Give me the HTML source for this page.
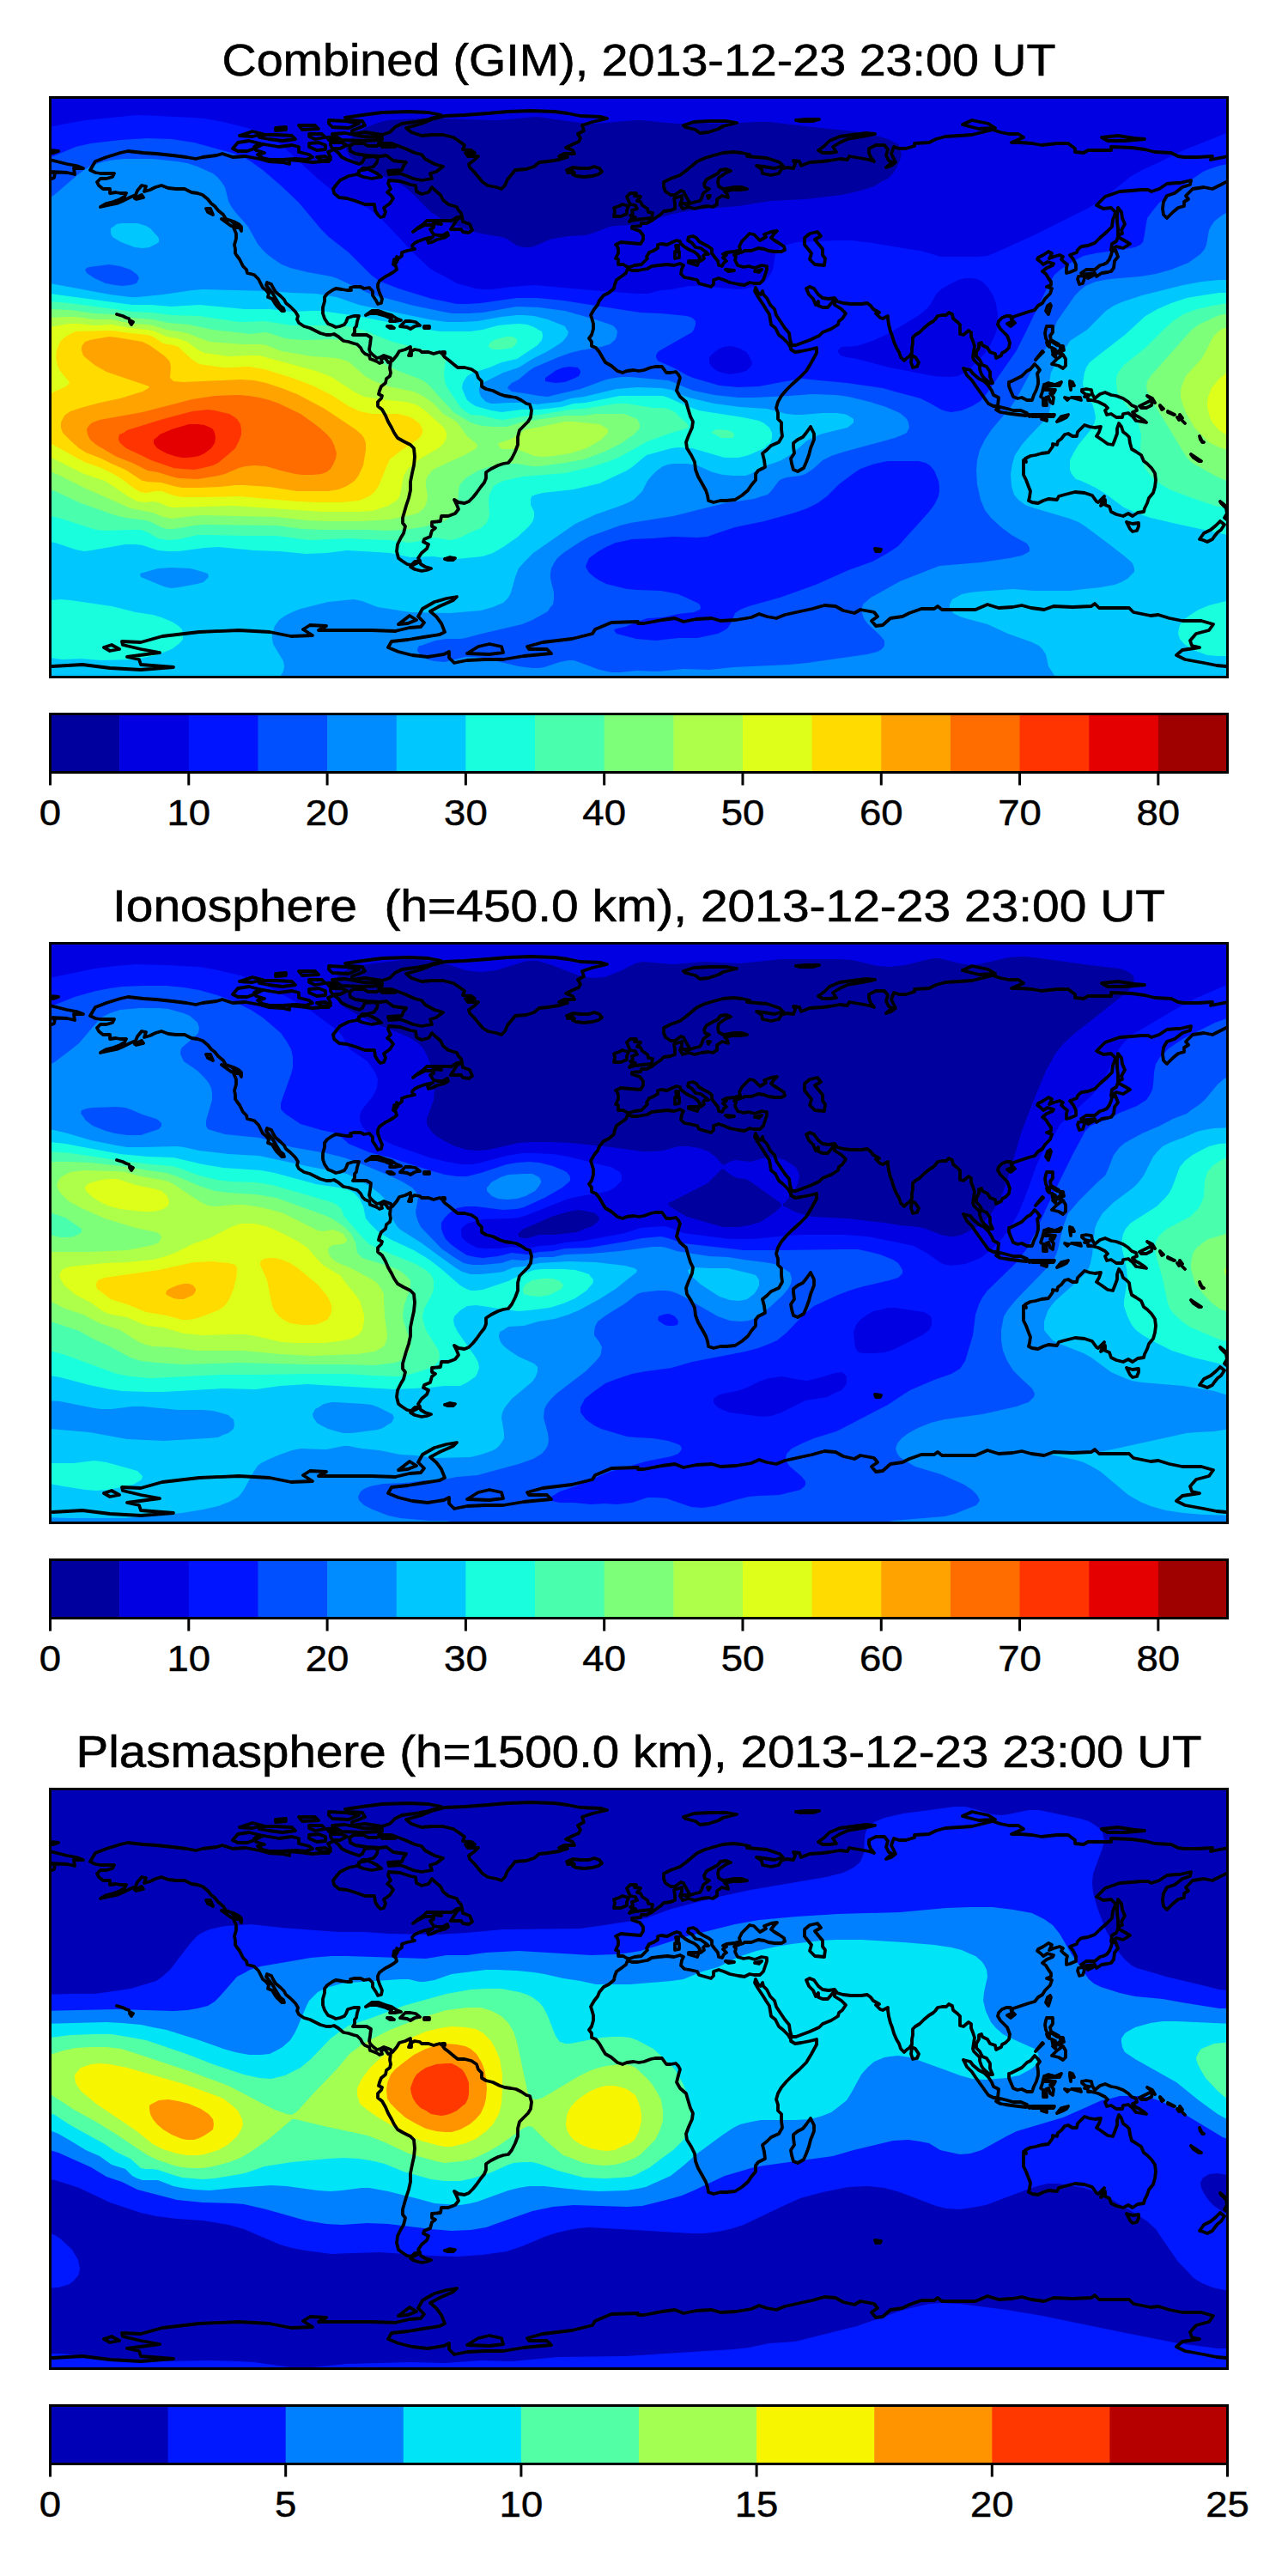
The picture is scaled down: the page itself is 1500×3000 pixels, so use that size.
<!DOCTYPE html><html><head><meta charset="utf-8"><style>html,body{margin:0;padding:0;background:#fff}body{width:1500px;height:3000px;position:relative;overflow:hidden}svg text{font-family:"Liberation Sans",sans-serif;fill:#000}</style></head><body>
<svg width="1500" height="3000" viewBox="0 0 1500 3000" style="position:absolute;left:0;top:0">
<defs>
<clipPath id="c0"><rect x="58.5" y="113.5" width="1371" height="675"/></clipPath>
<clipPath id="c1"><rect x="58.5" y="1098.5" width="1371" height="675"/></clipPath>
<clipPath id="c2"><rect x="58.5" y="2083.5" width="1371" height="675"/></clipPath>
</defs>
<g clip-path="url(#c0)" shape-rendering="geometricPrecision">
<rect x="58" y="113" width="1372" height="677" fill="#00009f"/>
<path fill="#0000e3" d="M58 108l1378 0 0 686-1384 0 0-686zM487 138l-21 1-14 1-12 3-10 4-12 6-10 9-4 7-1 5 1 2 3 6 12 10 11 6 28 12 14 8 11 10 19 19 12 8 16 7 18 7 12 3 24 4 6 2 12 8 8 2 6 0 6-1 18-8 10-2 12-2 20-1 10-3 18-7 6-1 18-1 8-1 42-12 22-4 18-2 36-3 38-6 40-2 42-5 14-3 12-3 12-4 8-5 8-4 6-6 5-8 3-7 2-7-2-8-2-4-4-2-8-4-16-5-23-4-49-5-50-6-16 0-36 2-54 0-14-1-28-3-8 0-34 3-14 1-16-1-36-5-14-2-12 1-22 2-14 1-40-1-32-2z"/>
<path fill="#0014ff" d="M160 134l24 1 40 2 14 1 22 4 32 8 10 3 8 4 10 5 8 7 42 39 16 13 14 9 28 12 13 10 12 12 29 31 18 17 6 4 12 6 14 8 22 6 8 1 10 0 24-3 26-2 34 3 33 3 53 4 12 0 16-4 12-1 20-4 12 0 46 4 8-1 10-2 10-4 4-4 5-6 3-6 3-18 4-6 3-3 6-2 12-3 46-2 18 0 24 3 42 7 14 2 24 7 42 0 12-1 12-5 22-10 20-9 28-14 36-18 20-13 28-23 14-8 22-10 26-13 28-11 20-8 4-1 6 0 0 639-1384 0 0-646 10-1 20-4 18-3zM1116 326l-10 5-10 6-6 6-6 11-5 6-10 8-10 6-25 15-18 8-18 6-18 1-4 4 0 2 3 4 7 2 12 2 38 10 52 10 12 1 8 0 7-1 9-4 7-6 7-7 9-10 6-9 5-10 3-8 1-10 0-8-2-12-4-11-6-9-6-6-6-3-6-1-8 0zM843 404l-5 2-6 4-4 4-2 2 0 4 0 2 2 4 2 2 5 4 6 2 9 2 12-2 7-2 4-4 2-2 1-4-1-2-3-6-3-4-7-4-6-2-6-1z"/>
<path fill="#0050ff" d="M172 161l28 1 26 4 40 11 16 5 10 6 14 10 21 18 21 20 26 31 9 9 23 18 26 26 8 6 6 3 18 7 39 12 15 3 14 3 12 0 16-1 42-6 24 0 30 3 38 6 52 8 24 1 30 3 6 2 4 4 0 4-2 6-2 3-9 5-28 16-3 2-2 4 0 2 2 4 4 2 14 6 16 9 7 3 31 9 22 2 24-1 26-5 24-4 10 1 42 4 42 6 14 4 30 8 10 5 14 8 6 2 6 1 12-2 12-5 10-6 8-10 34-49 11-22 13-27 14-29 6-10 7-6 15-10 12-6 14-3 35-5 11-2 6-3 3-3 1-4 3-18 1-6 6-8 8-10 38-27 13-9 7-3 12-4 10-2 5 0 1 603-1384 0 0-611 6 0 4-1 26-11 18-4 34-4zM656 428l-8 3-10 7-3 2 0 4 5 1 7 1 11-1 12-5 4-2 2-4 0-2-3-4-9-1zM1019 540l-17 6-9 6-16 12-14 14-11 8-12 6-14 5-36 10-34 7-24 8-8 3-12 1-28-1-24 2-24 1-9 2-10 2-11 5-9 5-11 8-3 7-1 3 1 2 3 5 6 5 6 4 8 4 24 6 12 1 28 1 20 4 9 4 13 6 3 2 1 4-1 2-7 3-18 2-18 4-18 1-6 2-20 8-10 2-2 1-1 1 3 4 23 6 23 2 8-1 18-2 22 0 24-5 8-4 3-2 4-6 5-12 6-4 10-4 36-10 42-15 38-17 28-10 18-10 12-8 9-10 27-30 6-8 5-10 1-6 0-6-1-6-5-12-5-6-5-3-8-2-12 0-24 0z"/>
<path fill="#008cff" d="M146 185l32 0 28 3 12 2 12 4 9 4 9 4 5 4 5 6 4 6 4 16 3 6 5 7 15 17 11 20 5 6 6 6 8 6 9 6 10 4 20 5 28 5 6 2 30 14 8 4 52 14 24 5 20 4 18 0 18-1 40-7 26 1 30 4 35 10 18 6 4 2 3 4 1 2-1 6-2 4-6 5-10 3-24 4-12 3-14 5-28 12-6 4-12 10-8 4-4 4-1 2 5 4 14 2 18 3 10 1 12-3 26-6 30-11 10-2 8-1 10 0 44 4 6 2 16 7 8 3 24 5 28 3 18 0 42-2 26-2 28 1 14 2 25 6 19 6 16 7 6 5 2 2 2 4 1 6-1 2-2 4-4 2-10 4-62 17-12 4-10 5-11 10-9 6-6 2-16 2-6 2-3 2-9 12-4 4-7 2-9 3-34 5-24 6-36 9-50 8-12 3-36 13-12 7-18 12-7 6-4 6-3 6-1 6 0 6 4 16 0 8-1 6-3 3-3 5-7 4-11 6-12 5-47 11-19 5-6 1-16 0-13 2-17 6-2 0-2 4 0 2 3 4 9 6 8 2 12 1 24-6 12 0 12 2 38 9 16 2 8 0 6-1 18-6 10-2 6 0 6 2 24 9 14 3 10 0 20-2 24 1 30-3 30 1 28-3 66-3 20-2 70-10 12-3 5-3 3-4 0-2 0-4-5-6-15-14-4-6-2-6 0-6 1-4 2-2 7-6 34-19 46-18 12-1 36-3 34-5 14-3 6-3 3-2 0-4-1-2-2-3-18-10-12-9-12-11-7-9-5-12-4-18-1-16 1-12 3-12 6-12 8-12 22-26 8-12 7-13 12-23 15-22 8-20 4-10 21-30 6-6 6-5 12-5 16-3 36-3 18-3 18-5 20-8 14-10 5-6 2-5 3-17 2-4 4-6 6-5 6-4 4-1 6 0 0 546-1384 0 0-564 6 0 4-2 28-24 8-6 8-5 16-5 12-2zM127 308l-23 3-3 1-2 2 2 4 9 6 13 6 11 2 8 1 10-1 7-2 2-4 1-2-2-4-8-6-12-4z"/>
<path fill="#00c8ff" d="M142 260l18 0 10 3 5 3 9 10 1 2 0 4-3 2-4 2-4 2-8 1-9-1-16-6-10-6-2-4 0-2 0-4 3-2 4-3zM1420 326l16 0 0 468-207 0 0-6-8-12-3-14-4-6-4-4-8-4-28-10-24-11-26-7-6-2-8-4-2-4-2-2 0-4 1-2 2-4 4-2 7-4 10-2 8-1 42-3 24 2 42 0 36-4 16-3 8-3 7-4 5-5 3-3 0-4-2-6-2-2-7-6-18-14-28-21-8-5-10-4-44-13-8-3-8-6-5-6-3-10-1-14 2-12 3-10 8-12 7-8 17-18 5-6 3-6 2-10-2-24 2-12 4-8 10-17 5-7 3-5 20-13 22-22 9-6 9-4 24-8 48-12 22-4zM58 330l70 13 24 3 8 0 30-3 34-5 12-1 78 2 26 2 28 1 24 4 26 9 58 12 24 5 20 3 18 0 18-1 28-5 18-2 8 0 12 1 16 4 15 6 5 2 2 4 2 2-1 4-1 2-5 6-9 6-10 6-16 8-16 10-6 2-12 4-24 12-3 4-1 2 0 4 2 6 6 6 6 2 5 0 15-1 18 0 16 2 6-1 20-2 13-4 15-2 38-9 24-2 28 1 12 2 14 7 10 3 26 6 30 4 31 2 23 6 10 1 8 0 24-2 16 0 8 1 4 1 5 3 3 2 0 4-2 2-5 4-29 7-8 3-10 5-17 15-13 8-8 3-12 4-6 3-10 6-6 2-14 0-12-1-12-3-18-8-12-2-16 0-6 1-6 2-7 5-6 6-5 6-6 12-6 6-4 4-8 4-10 4-26 9-24 11-26 18-23 16-10 10-7 8-4 10-5 18-3 6-6 6-5 2-7 3-14 4-36 3-46-1-38-6-8-3-10-4-10-2-30 3-32 8-10 4-8 4-7 5-5 7-3 9 0 6 1 6 12 20 1 6-1 6-4 6 0 6-274 0 0-464zM184 662l-21 6 1 4 24 10 6 2 6 1 8-1 22-4 7-2 4-4 2-2-1-4-6-2-14-4-22-1z"/>
<path fill="#19ffde" d="M1420 341l16 0 0 282-6 0-60-13-30-7-18-6-13-6-23-17-10-6-17-8-6-2-5-6-2-5 0-5 0-6 4-8 6-10 14-17 5-9 1-6-2-10-2-6-9-14-2-10 2-12 2-6 4-6 10-8 31-24 24-22 14-8 16-7 18-6 18-3zM58 342l96 13 22 0 24 2 32-2 52 5 30 0 26 3 24-1 10 0 42 6 66 13 30 5 20 0 16 0 14-2 18-5 10-1 14-1 10 1 8 3 5 3 4 2 1 4 0 2-1 4-5 6-24 16-18 4-14 6-19 6-7 4-4 6-1 2-1 6 4 10 2 4 5 4 5 3 18 5 12 2 24-3 20 0 26-3 14-4 14-1 40-8 50 0 6 2 22 10 14 5 12 2 39 6 19 4 6 3 6 5 3 6 0 6-2 6-3 2-4 4-18 8-12 3-6 0-10 0-38-11-16-1-8 1-29 8-5 4-12 10-6 4-32 15-30 7-36 4-8 2-5 2-1 4 0 6 4 8 0 6-2 6-5 6-13 12-16 11-12 7-12 4-30 3-6 0-21-3-27 1-24-5-14-1-36-2-24 3-24 1-30-3-30-1-42-4-16 1-30 4-12 0-12-1-18-6-8-1-12 0-40 7-8 1-10-2-24-8-6-1-6 0 1-289zM70 698l12 1 48 7 28 7 20 3 10 3 12 5 8 5 4 4 1 5 0 6-1 2-4 4-8 6-18 7-16 3-12 2-36 1-24-2-21 1-15-2-6 0 0-66zM1424 701l6-1 6 0 0 64-18 0-12-1-16-6-11-7-5-6-2-6 1-6 1-4 4-6 10-7 8-5 12-5z"/>
<path fill="#49ffad" d="M58 351l22 2 54 7 20 3 22 1 24 3 32 1 46 7 8 0 22-1 32 5 40 0 24 1 8 2 10 2 35 14 36 9 21 3 4 2 1 2 1 2-2 10-1 8 1 10 2 6 16 24 6 5 6 4 14 1 16 4 8 1 22-4 20-2 36-6 16-1 38-6 12 0 30 5 12 0 6 1 8 4 6 6 9 8 1 4-6 2-14 4-28 10-32 18-12 5-22 7-30 7-50 4-22 5-6 3-5 3-2 4-3 6-1 6 1 18-2 6-2 4-6 5-12 5-12 6-6 2-6 1-12-2-6-1-22 5-8 1-22-3-30-1-18-1-44 2-10-1-30-4-36 0-44-1-12 0-22 5-12 1-6-1-6-1-12-7-8-3-12 0-30 1-10-1-44-14-10-2-6 0 0-250zM1430 353l6 0 0 239-6 0-12-2-18-6-17-6-21-8-10-6-6-4-6-6-6-8-5-12-1-10 1-18-3-12-4-8-4-6-14-18-3-6-1-10 0-6 2-6 7-9 25-20 21-21 11-10 12-8 16-6 18-4zM590 392l7 0 5 3 0 3-2 4-4 3-12 2-10 0-5-3 0-2 3-4 6-3zM836 500l12 1 6 3 1 2-1 4-3 0-7 0-4 0-7-4-5-2 4-3z"/>
<path fill="#7dff7a" d="M58 360l24 1 28 4 24 1 20 4 24 2 18 4 24 2 28 6 36 4 6 1 18-2 6 1 18 6 8 1 16 1 32-1 16 2 9 5 17 12 16 9 18 9 24 9 6 3 6 5 17 19 7 7 4 5 20 12 6 2 8 2 13 1 15 0 20-6 48-7 22 0 14-2 18 0 15 0 10 4 5 2 2 4 1 2 0 4-2 3-5 5-14 10-20 10-24 9-22 4-30 4-8 0-18-3-6 0-24 3-15 5-15 9-6 7-1 2-1 6-1 18-3 6-2 4-4 2-5 4-23 7-24 4-23 1-21-1-54 0-22-1-30-4-86-1-10 1-24 4-8 0-6-2-12-6-6-2-24-3-12-3-40-14-30-14-6-2-6 0 0-210zM1430 365l6 0 0 194-10 0-11-5-25-14-7-6-7-11-15-25-21-34-4-9-1-5 1-6 4-6 14-16 34-38 8-6 13-6 11-5z"/>
<path fill="#adff49" d="M58 370l18-1 12 0 22 3 20 0 24 5 18 1 6 1 16 5 14 2 10 2 18 7 8 3 40 3 21 0 5 1 18 7 12 2 24 4 28 2 8 2 7 3 18 16 11 6 16 6 30 6 12 6 11 8 11 12 14 8 4 4 10 14 10 8 2 2-1 4-3 2-11 6-33 15-5 3-3 4-2 2-2 6 0 6 2 12-1 6-2 6-5 5-2 2-6 2-28 6-32 2-40 0-24-1-38-4-84-2-12 1-24 3-10-2-12-5-26-5-54-24-30-15-10-4-6 0 0-179zM1423 383l7-2 6 0 0 143-10-1-8-3-10-5-9-9-8-8-9-16-5-12-2-8 0-6 1-6 5-12 19-21 13-25 6-6zM658 491l10 0 30 3 7 4 3 2 0 4-2 2-6 6-10 6-7 4-19 6-20 3-12 1-10-1-20-8-16 0-3-1-3-4 1-2 15-5 10-7 6-4 13-2z"/>
<path fill="#deff19" d="M80 377l12 0 18 2 20-1 22 4 20 2 6 1 16 7 12 2 6 2 6 2 12 9 8 4 28 4 24-1 12 0 66 18 18 7 26 17 12 6 18 3 30 3 9 2 7 3 9 7 20 18 3 6 0 6-3 6-5 5-24 14-13 11-5 8-4 22-3 6-3 2-8 5-18 6-16 1-42 0-104-7-70 2-6-1-12-5-6-1-8 1-10-1-11-6-19-13-8-5-24-8-36-18-4-1-6 0 0-152 6 0zM1430 433l6 0 0 73-6 0-4-1-6-4-3-3-5-6-3-6-3-12 0-6 1-6 4-10 9-11z"/>
<path fill="#ffdb00" d="M88 386l42-1 22 3 20 2 6 2 12 8 12 2 6 2 4 4 12 11 8 5 28 4 8 0 22-1 18 3 32 10 24 9 22 11 20 13 13 6 15 3 30 0 12 3 6 3 7 6 3 6 0 4-2 4-4 4-22 15-10 8-5 11-8 20-5 7-6 5-12 5-20 2-28 0-24-1-68-6-37 1-29 0-10-2-14-5-6 0-12 2-6-1-6-3-16-12-10-6-14-7-20-7-36-20-4-1-6 0 0-58 7-1 18-8 4-4-1-2-10-12-3-6-2-10 1-8 4-10 4-4 6-4z"/>
<path fill="#ffa300" d="M128 392l8 1 30 5 8 4 17 12 6 6 1 2 1 6-1 12 4 4 12 1 66-3 16 1 14 3 18 6 18 7 17 9 15 8 36 24 7 6 3 4 2 6 0 8-3 18-5 11-5 7-9 6-10 4-12 2-36 0-32-5-30-2-10 0-18 2-24 1-20 0-10-2-14-4-16-1-6-1-20-13-16-7-12-6-18-7-8-5-11-10-8-8-2-6 0-6 3-6 2-3 6-4 12-4 22-6 24-5 26-8 7-4 1-2-50-17-14-8-11-9-2-2-2-6 0-4 1-2 3-4 6-2 5-1z"/>
<path fill="#ff6c00" d="M250 461l28-1 12 1 12 2 12 3 11 4 25 12 14 10 8 6 9 8 5 6 3 6 3 10-1 6-3 7-3 5-5 4-6 2-10 1-12 0-8-1-17-4-17-5-14-1-10 1-8 2-16 7-8 2-24 4-22-1-8-2-16-5-12-2-18-9-18-7-24-14-7-6-3-6-1-6 1-2 2-3 4-3 8-3 50-9 58-15z"/>
<path fill="#ff3400" d="M224 479l18-2 8 1 8 2 9 2 5 3 4 3 4 6 1 6 0 6-2 6-5 10-9 8-11 9-6 3-12 3-10 2-14-1-10-1-26-9-12-6-17-8-7-6-2-4 0-2 1-4 5-2 4-3 42-13z"/>
<path fill="#e40000" d="M220 494l10 0 8 1 7 3 3 2 2 4 1 6-1 6-4 6-8 6-6 3-6 1-8 1-6 0-9-2-9-3-11-6-3-4-1-2 0-4 3-2 4-4 14-6z"/>
<g transform="translate(0,0)" fill="none" stroke="#000" stroke-width="3.8" stroke-linejoin="round" stroke-linecap="round"><path d="M105 198L111 188L124 183L140 178L149 176L167 178L182 179L201 181L217 183L228 185L236 183L252 181L259 179L271 183L286 182L302 185L313 188L329 189L337 191L337 186L348 187L364 189L375 188L383 188L385 183L382 177L389 174L394 178L398 183L404 186L412 189L418 191L422 189L425 183L435 182L440 184L439 189L435 194L427 196L422 196L418 200L416 203L406 205L396 210L391 216L388 220L389 225L395 230L404 231L414 234L425 238L436 238L437 245L440 250L443 253L447 252L449 247L447 242L454 237L458 231L455 227L451 224L455 220L452 214L453 210L466 211L478 215L484 216L485 223L491 226L499 224L503 218L506 221L513 227L516 233L522 238L532 241L534 245L537 248L538 252L532 253L526 257L516 257L506 257L497 257L493 261L487 265L481 270L485 267L495 262L505 262L505 265L501 267L503 270L505 273L510 274L516 274L521 271L522 274L517 277L509 279L503 282L499 283L498 280L504 276L499 277L495 278L487 281L483 283L480 286L481 290L483 290L479 291L474 292L468 294L468 298L464 301L462 299L463 303L460 308L459 302L458 308L461 310L462 314L458 317L453 320L449 322L442 327L440 331L440 335L442 341L445 348L444 353L440 354L438 350L434 344L434 339L430 335L424 336L420 334L412 334L408 335L409 338L404 338L398 337L391 336L387 338L381 342L378 346L378 351L376 358L376 365L378 371L382 377L387 379L391 381L396 380L401 378L403 375L405 370L412 368L418 368L416 374L415 380L413 382L413 387L411 390L416 390L422 390L427 390L432 393L431 401L430 407L431 410L435 414L439 417L443 416L447 414L450 415L455 417M455 421L452 422L450 419L447 416L444 419L445 422L442 423L439 421L434 419L431 418L430 414L425 412L422 409L420 405L416 401L412 400L406 398L400 397L394 392L389 389L385 390L380 390L373 388L367 385L361 382L354 380L348 376L346 372L347 368L344 363L338 357L333 353L331 349L327 345L321 340L318 335L316 331L311 329L310 332L313 336L317 341L320 346L323 351L326 356L330 359L331 362L328 362L323 357L320 353L317 348L312 346L313 342L310 338L306 335L303 329L301 325L296 320L288 318L287 314L283 310L281 306L279 302L276 298L274 295L274 290L273 285L275 278L275 272L272 265L279 265L281 269L281 264L278 261L272 258L263 255L260 250L254 245L250 240L246 237L242 232L236 227L230 225L223 224L215 220L205 220L196 219L188 216L181 218L175 221L168 223L170 217L165 216L160 222L158 227L151 230L143 234L136 237L126 239L117 241L124 237L132 235L140 232L145 229L147 225L140 225L135 224L128 225L128 220L120 220L115 216L113 212L117 208L124 208L131 206L133 202L126 202L117 202L111 201L105 198M455 417L457 420L462 414L465 409L472 407L478 404L478 409L476 414L479 414L479 409L483 407L489 408L491 410L499 410L505 412L512 410L515 412L518 416L522 419L528 424L533 428L541 428L549 430L555 434L557 440L561 444L561 450L566 453L574 455L582 459L588 461L595 462L601 463L607 466L613 470L617 471L619 478L618 486L615 491L610 496L605 501L603 509L603 518L600 526L596 534L592 539L586 540L580 542L572 546L566 550L566 557L564 562L560 567L555 574L551 579L546 584L541 586L534 585L529 582L532 588L534 593L530 598L522 601L514 601L513 607L503 608L503 613L507 615L503 618L501 625L494 628L493 631L499 634L497 639L491 644L487 650L489 653L483 654L479 658L474 657L468 653L464 650L462 642L463 634L467 626L470 621L472 613L469 609L469 603L471 596L473 589L476 580L478 571L478 561L480 551L482 542L483 532L482 522L478 518L470 514L463 510L459 504L456 498L452 491L449 484L445 477L440 473L440 468L444 464L445 461L441 459L442 455L444 450L449 446L450 441L454 438L455 434L454 429L455 421M489 654L481 658L478 660L483 663L491 665L497 664L502 662L495 660L490 657L489 654M518 651L524 649L530 650L528 652L521 652L518 651M491 158L479 154L473 149L491 144L503 139L518 135L541 134L568 132L591 130L618 129L646 130L661 132L676 135L700 136L707 138L690 142L678 146L680 152L673 156L676 161L674 165L667 168L659 172L667 175L669 179L657 179L651 182L661 183L651 186L638 188L628 189L622 194L613 197L600 198L596 203L591 209L588 216L584 220L578 218L568 216L562 212L557 206L552 200L547 195L546 191L553 186L557 182L545 182L542 178L553 178L549 175L539 174L541 169L534 164L528 160L516 157L503 157L491 158M660 198L667 195L676 196L686 196L692 194L698 196L701 200L697 203L690 205L680 206L671 205L667 203L669 201L661 201L667 199L660 198M443 167L456 167L472 173L483 178L491 180L495 185L506 191L516 194L508 200L501 202L503 208L491 210L481 208L474 205L466 202L453 203L452 199L468 198L470 193L473 189L458 187L450 181L443 182L427 181L414 179L408 176L407 170L412 167L423 167L429 170L439 170L443 167M302 167L313 169L325 171L340 169L348 171L348 177L360 180L364 183L356 186L344 185L329 186L315 186L306 184L300 180L308 178L298 175L296 171L302 167M271 173L277 166L290 164L306 168L296 173L288 176L277 176L271 173M410 156L425 154L445 157L454 154L460 148L468 144L483 142L499 139L514 134L499 131L476 130L445 131L422 134L402 137L406 140L422 141L425 146L418 149L410 152L410 156M387 156L402 155L422 159L445 160L445 163L422 164L398 163L387 156M302 157L321 157L340 158L344 162L329 164L313 162L302 160L302 157M360 156L375 156L379 160L367 162L360 159L360 156M360 167L371 166L379 169L379 174L369 175L360 171L360 167M385 166L398 166L404 169L396 173L387 173L385 169L385 166M383 140L402 141L418 144L406 149L387 148L383 144L383 140M418 199L429 197L439 202L444 206L433 208L423 206L418 204L418 199M525 267L532 256L538 252L539 258L547 261L550 268L546 271L539 270L537 267L525 267M426 367L433 362L441 362L449 365L456 367L462 371L467 373L461 374L454 374L456 371L449 368L438 365L431 365L426 367M466 380L472 374L478 374L484 375L489 379L483 380L478 383L474 381L466 380M451 380L456 380L459 382L454 382L451 380M494 380L500 380L500 382L494 382L494 380M151 373L155 375L153 378L151 375L151 373M136 366L143 368L147 370L150 371M717 285L723 282L734 283L746 284L749 279L749 274L745 269L736 266L736 264L746 263L747 260L753 260L759 257L763 254L769 250L773 246L781 245L786 243L786 237L785 231L794 228L794 233L792 238L795 243L802 241L809 243L817 241L825 240L830 241L835 238L835 232L841 228L848 230L847 226L844 223L854 221L862 221L870 220L864 218L854 218L842 220L837 217L836 212L837 207L846 201L851 199L846 197L839 198L836 202L823 209L820 214L821 218L826 220L819 225L817 231L815 234L810 235L804 237L802 234L798 227L796 223L793 222L786 227L781 227L775 223L773 218L773 212L781 208L792 204L800 198L806 193L812 188L821 184L831 181L842 178L854 177L864 178L873 180L870 182L881 183L893 184L908 189L912 193L902 196L889 194L881 193L887 197L888 202L898 204L907 202L910 197L916 195L924 196L926 191L924 187L931 188L933 193L943 189L958 188L966 187L978 185L987 186L989 182L1001 184L1012 186L1018 188L1014 183L1012 178L1012 173L1020 169L1030 169L1034 174L1032 181L1035 187L1039 189L1032 195L1038 193L1043 189L1041 185L1038 179L1041 171L1047 173L1055 173L1065 170L1065 167L1082 166L1090 162L1101 159L1117 158L1132 157L1148 153L1156 151L1165 154L1175 156L1186 156L1192 160L1178 166L1188 166L1202 167L1213 169L1231 167L1244 167L1252 173L1252 177L1262 178L1267 175L1283 175L1294 175L1294 171L1318 172L1333 174L1345 177L1364 178L1372 182L1379 183L1395 183L1412 182L1410 186L1430 182L1449 185M58 200L78 201L87 203L86 196L97 196L89 193L78 191L66 188L58 186M58 200L64 202L63 207L58 209M1449 200L1443 202L1439 201L1444 207L1447 210L1430 211L1420 216L1412 220L1402 218L1389 220L1384 225L1381 228L1384 232L1379 235L1379 240L1372 242L1366 247L1359 254L1355 250L1354 243L1355 235L1359 228L1368 225L1377 218L1386 215L1387 210L1374 213L1370 213L1359 214L1350 220L1341 223L1337 221L1329 221L1318 222L1304 223L1287 229L1277 239L1285 243L1294 242L1299 247L1298 251L1296 256L1295 264L1289 270L1281 277L1275 283L1267 286L1260 287L1258 288L1255 291L1254 294L1246 297L1250 302L1253 308L1253 314L1246 317L1242 318L1242 312L1243 308L1239 305L1236 302L1238 299L1234 297L1227 299L1222 301L1225 295L1221 293L1215 297L1209 300L1208 302L1212 305L1215 308L1220 305L1227 307L1226 309L1219 312L1214 316L1218 319L1221 324L1224 328L1224 332L1219 334L1225 336L1223 342L1217 348L1214 353L1209 356L1205 361L1198 363L1192 365L1186 367L1180 369L1178 373L1177 368L1172 368L1167 370L1163 374L1162 378L1165 383L1169 387L1173 391L1176 399L1175 405L1171 409L1167 411L1166 414L1160 417L1159 412L1153 410L1150 405L1144 402L1143 399L1140 400L1140 405L1137 410L1137 415L1141 419L1144 425L1149 427L1153 433L1153 439L1156 446L1153 446L1148 442L1145 439L1143 436L1141 430L1141 426L1139 424L1134 419L1133 416L1134 409L1135 403L1133 397L1131 392L1131 387L1128 385L1122 390L1118 389L1118 383L1118 378L1115 375L1110 371L1109 366L1105 364L1102 367L1097 367L1092 368L1089 372L1087 374L1082 377L1076 382L1071 387L1066 390L1063 393L1063 400L1062 405L1062 411L1059 415L1056 417L1053 420L1049 416L1047 410L1044 405L1041 398L1039 391L1037 386L1035 378L1034 371L1034 368L1028 371L1025 370L1020 365L1024 364L1017 360L1014 356L1010 353L1003 354L991 354L982 353L975 351L972 347L965 348L958 347L953 343L948 336L943 334L939 336L942 343L947 348L950 355L953 351L953 356L958 358L964 358L970 351L972 350L972 355L980 360L985 365L981 371L977 374L976 378L968 383L958 387L954 391L943 396L935 399L927 402L922 402L920 395L919 388L914 382L908 373L904 367L902 360L897 355L893 347L889 343L888 339L886 343L883 341L880 335L879 339L883 346L889 355L892 360L896 366L897 372L898 378L903 382L907 390L912 394L918 400L921 405L921 407L926 410L933 409L943 407L951 405L951 411L945 422L939 432L931 440L922 448L916 454L910 461L906 468L904 475L906 481L906 488L910 492L910 500L911 508L907 515L898 519L893 524L888 528L890 536L891 544L883 548L880 552L880 559L875 565L871 571L864 577L856 582L846 583L839 583L831 585L825 583L824 577L822 571L817 562L813 555L810 547L809 538L805 530L800 522L799 515L802 507L806 498L807 491L804 485L801 475L799 468L792 462L788 455L790 447L792 440L790 436L787 433L781 434L776 434L771 427L763 427L758 428L750 431L744 432L738 431L730 432L725 434L719 432L712 426L705 422L702 417L698 410L694 405L689 403L689 398L686 394L689 390L691 383L691 377L689 370L688 367L692 360L696 355L698 350L703 344L709 341L715 336L716 331L718 326L725 321L729 318L731 313L736 315L743 315L748 314L754 313L759 310L767 309L777 308L785 309L792 307L796 309L794 313L793 319L797 323L803 324L812 326L814 330L821 332L828 334L831 331L831 326L837 324L843 326L850 329L860 331L867 332L873 329L878 330L885 330L889 326L891 320L893 314L893 310L887 309L879 312L872 310L866 311L859 309L856 303L857 299L855 297L860 295L866 293L867 292L875 292L883 289L890 290L895 292L902 293L910 293L914 291L913 287L907 283L902 280L898 277L901 273L905 269L898 270L890 273L892 276L885 280L882 277L878 273L873 272L868 277L864 281L861 287L862 291L855 293L846 294L842 296L846 297L842 300L846 304L843 306L841 310L837 309L836 304L832 299L829 295L829 290L825 287L819 284L814 281L811 277L807 275L802 276L801 280L806 283L810 288L816 289L823 294L825 296L821 296L819 298L820 301L816 304L814 304L815 300L812 296L808 293L803 291L798 288L793 284L792 281L788 280L783 282L777 285L770 284L766 285L766 289L761 292L756 294L753 299L754 301L751 304L747 308L739 309L733 311L729 310L726 308L720 308L720 302L717 301L720 295L720 290L718 285L717 285M937 285L945 295L943 302L949 308L960 309L961 301L958 297L958 290L953 284L949 279L956 275L952 270L943 272L937 277L937 285M733 258L740 256L749 255L759 254L760 248L755 247L754 243L748 239L746 235L742 234L746 229L739 228L741 225L734 225L730 229L732 234L734 238L740 239L742 243L736 245L737 249L734 251L740 253L736 254L733 258M715 252L723 252L730 249L730 245L732 240L725 238L721 240L715 242L716 246L715 252M796 146L808 142L827 141L846 141L858 143L842 147L837 150L825 154L815 155L810 151L798 148L796 146M953 175L960 170L966 164L978 159L993 157L1009 155L1019 156L1005 159L987 162L978 166L970 171L974 177L966 178L958 178L953 175M927 140L939 139L954 139L947 141L931 141L927 140M1121 145L1132 140L1151 144L1159 149L1140 150L1128 147L1121 145M1283 160L1302 158L1321 161L1333 162L1310 164L1290 164L1283 160M1443 176L1449 175M58 175L68 176L62 178L58 178M1302 242L1306 247L1307 254L1310 261L1306 268L1307 272L1302 274L1302 266L1301 258L1301 250L1302 242M1294 291L1300 287L1308 289L1316 284L1311 281L1302 276L1300 281L1295 284L1294 291M1299 291L1302 299L1298 304L1297 312L1294 316L1290 317L1283 318L1277 322L1275 318L1267 319L1260 320L1259 318L1265 314L1275 314L1281 309L1285 308L1289 306L1292 302L1294 297L1295 293L1299 291M1256 322L1262 321L1263 324L1261 330L1257 331L1255 325L1256 322M1265 320L1273 319L1273 321L1267 324L1265 320M1223 354L1224 356L1221 366L1218 362L1220 356L1223 354M1173 377L1180 374L1182 376L1177 380L1173 377M1219 380L1226 380L1226 387L1223 391L1224 396L1233 401L1231 402L1225 398L1220 398L1218 394L1217 388L1218 383L1219 380M1225 424L1231 418L1238 413L1241 418L1241 426L1238 429L1233 426L1225 424M1231 410L1236 407L1238 403L1237 409L1234 412L1231 410M1225 405L1229 407L1229 412L1226 410L1225 405M1206 419L1215 410L1214 409L1206 419M1175 445L1178 444L1184 441L1190 438L1196 432L1200 430L1205 424L1208 427L1211 431L1208 435L1209 442L1209 447L1207 454L1204 460L1202 466L1196 466L1190 463L1185 464L1180 462L1177 455L1175 450L1175 445M1122 429L1130 431L1133 435L1140 441L1146 444L1151 449L1155 455L1157 460L1163 463L1162 473L1157 473L1151 470L1146 463L1141 456L1136 449L1132 443L1126 437L1122 429M1160 477L1165 474L1173 476L1180 478L1189 478L1196 481L1195 484L1186 483L1178 482L1171 481L1165 480L1160 477M1216 448L1221 446L1229 448L1236 445L1234 449L1227 449L1220 450L1217 454L1223 454L1229 454L1227 458L1223 458L1227 463L1226 470L1223 468L1221 462L1218 463L1219 472L1215 472L1215 464L1212 462L1214 456L1216 448M1246 444L1249 445L1251 449L1247 449L1247 454L1246 448L1246 444M1231 491L1236 485L1244 483L1242 486L1236 489L1231 491M1202 483L1209 483L1217 483L1228 483L1227 485L1217 485L1209 485L1202 485L1202 483M1248 463L1258 463L1259 466L1252 464L1248 463M1213 488L1219 488L1219 490L1213 488M1260 454L1265 453L1271 454L1272 459L1275 464L1281 459L1287 457L1294 460L1300 461L1308 464L1314 468L1318 472L1323 474L1324 478L1319 480L1323 484L1327 486L1333 490L1335 492L1329 491L1323 490L1319 485L1314 481L1308 482L1307 486L1300 486L1294 482L1289 483L1287 478L1290 475L1287 472L1279 468L1271 466L1267 466L1267 463L1263 462L1269 460L1264 459L1260 456L1260 454M1327 473L1333 470L1339 467L1342 468L1341 472L1335 475L1329 475L1327 473M1336 461L1342 464L1345 469L1343 466L1337 462L1336 461M1351 472L1355 476L1353 477L1351 473L1351 472M1371 486L1375 488L1373 489L1371 486M1360 479L1368 483L1367 483L1360 480L1360 479M1374 483L1377 487L1375 487L1374 484L1374 483M1377 490L1380 493L1379 492L1377 490M1397 508L1399 512L1398 512L1397 508M1399 513L1402 515L1400 515L1399 513M1387 529L1393 533L1399 537L1396 537L1390 533L1387 529M1438 518L1443 519L1442 521L1439 521L1438 518M1062 414L1066 416L1070 422L1068 427L1063 428L1061 422L1062 414M944 497L948 505L948 512L946 517L944 522L942 530L939 538L936 545L929 549L924 547L922 540L921 534L925 528L924 520L924 516L929 512L935 509L939 504L944 497M1192 536L1195 538L1194 534L1200 531L1206 530L1213 528L1221 527L1226 520L1226 517L1231 518L1232 514L1236 511L1240 506L1244 505L1249 508L1254 508L1255 503L1259 499L1263 495L1269 497L1275 498L1282 497L1280 503L1277 508L1283 512L1290 517L1296 518L1298 513L1301 505L1301 499L1303 493L1306 497L1308 503L1312 506L1315 509L1316 516L1318 523L1323 526L1329 530L1332 537L1336 540L1341 545L1345 551L1346 559L1345 567L1343 574L1338 580L1336 586L1333 592L1332 596L1325 597L1319 601L1314 598L1308 601L1300 599L1294 596L1292 590L1287 588L1287 582L1285 587L1282 589L1286 578L1279 585L1277 584L1272 577L1263 574L1252 573L1240 576L1233 578L1231 582L1221 581L1215 583L1209 586L1202 585L1198 583L1199 579L1200 572L1198 567L1195 559L1192 553L1192 547L1192 542L1192 536M1312 608L1319 610L1326 609L1326 613L1324 618L1319 619L1316 616L1312 608M1421 584L1426 588L1431 593L1433 596M1430 611L1431 607L1426 603L1429 598L1428 592L1422 586L1421 584M1421 607L1426 611L1422 617L1418 620L1414 625L1412 628L1406 631L1401 629L1397 628L1402 621L1410 617L1416 612L1421 607M1019 639L1026 640L1025 642L1020 642L1019 639M279 158L294 153L306 156L294 159L279 158M381 160L391 159L393 163L383 163L381 160M369 183L379 182L385 186L375 187L369 183M348 146L367 146L371 150L352 151L348 146M441 167L456 168L460 171L445 171L441 167M321 149L333 148L333 151L321 152L321 149M505 259L514 261L505 260M157 231L165 227L167 230L159 232L157 231M258 255L269 257L277 264L269 263L258 255M240 243L245 243L248 250L242 247L240 243M515 410L518 410L518 412L515 412L515 410M786 293L791 293L791 300L786 301L786 293M787 286L790 286L790 291L788 291L787 286M802 304L814 304L812 309L802 306L802 304M845 314L855 315L848 316L845 314M879 316L887 314L884 317L879 316M796 237L802 236L801 239L796 237M824 228L827 228L825 231L824 228M1196 483L1200 483L1199 485L1196 483M1240 463L1245 464L1243 466L1240 463M1227 409L1230 410L1229 416L1226 413L1227 409M1219 399L1222 400L1222 404L1220 402L1219 399M1234 403L1238 403L1239 408L1236 407L1234 403M61 776L96 774L128 778L164 780L202 777L164 774L162 768L148 765L186 760L164 756L143 751L142 747L164 748L189 741L232 736L278 734L314 736L339 741L364 740L353 733L361 728L380 729L371 734L400 734L432 734L461 735M121 754L130 751L139 756L128 758L121 754M460 735L477 731L490 730L494 725L487 718L492 709L506 701L520 697L532 695L528 699L512 706L501 712L508 718L514 726L518 736L512 739L493 742L475 745L456 747L452 754L464 759L480 763L498 765L517 762L523 759L523 766L529 772L544 769L565 768L586 768L610 764L642 761L637 756L616 756L614 753L632 748L666 744L690 738L693 733L712 725L743 724M464 727L477 717L485 722L475 726L464 727M544 761L557 753L570 750L584 753L586 760L570 762L544 761M743 726L750 726L771 722L786 720L796 724L811 721L829 720L839 723L857 722L875 719L884 715L893 718L904 720L914 716L932 712L946 709L960 705M960 705L973 706L982 711L995 714L1002 710L1018 713L1022 718L1015 723L1020 729L1028 728L1037 720L1051 718L1059 714L1073 709L1088 709L1092 706L1097 710L1117 710L1136 710L1150 704L1163 708L1179 707L1190 705L1201 708L1216 710L1227 706L1249 707L1271 706L1275 703L1280 708L1296 708L1315 708L1320 713L1340 717L1349 716L1362 720L1377 723L1399 723L1413 727L1408 734L1393 738L1386 746L1388 752L1397 754L1377 757L1370 763L1380 768L1402 772L1417 775L1428 776"/></g>
</g>
<rect x="58.5" y="113.5" width="1371" height="675" fill="none" stroke="#000" stroke-width="3"/>
<rect x="58.50" y="831.5" width="81.25" height="68" fill="#00009f"/>
<rect x="139.15" y="831.5" width="81.25" height="68" fill="#0000e3"/>
<rect x="219.79" y="831.5" width="81.25" height="68" fill="#0014ff"/>
<rect x="300.44" y="831.5" width="81.25" height="68" fill="#0050ff"/>
<rect x="381.09" y="831.5" width="81.25" height="68" fill="#008cff"/>
<rect x="461.74" y="831.5" width="81.25" height="68" fill="#00c8ff"/>
<rect x="542.38" y="831.5" width="81.25" height="68" fill="#19ffde"/>
<rect x="623.03" y="831.5" width="81.25" height="68" fill="#49ffad"/>
<rect x="703.68" y="831.5" width="81.25" height="68" fill="#7dff7a"/>
<rect x="784.32" y="831.5" width="81.25" height="68" fill="#adff49"/>
<rect x="864.97" y="831.5" width="81.25" height="68" fill="#deff19"/>
<rect x="945.62" y="831.5" width="81.25" height="68" fill="#ffdb00"/>
<rect x="1026.26" y="831.5" width="81.25" height="68" fill="#ffa300"/>
<rect x="1106.91" y="831.5" width="81.25" height="68" fill="#ff6c00"/>
<rect x="1187.56" y="831.5" width="81.25" height="68" fill="#ff3400"/>
<rect x="1268.21" y="831.5" width="81.25" height="68" fill="#e40000"/>
<rect x="1348.85" y="831.5" width="80.65" height="68" fill="#9f0000"/>
<rect x="58.5" y="831.5" width="1371" height="68" fill="none" stroke="#000" stroke-width="3"/>
<line x1="58.50" y1="900.0" x2="58.50" y2="914.5" stroke="#000" stroke-width="3"/>
<text x="58.50" y="961.4" font-size="42.4" text-anchor="middle" textLength="25.3" lengthAdjust="spacingAndGlyphs" stroke="#000" stroke-width="0.5">0</text>
<line x1="219.79" y1="900.0" x2="219.79" y2="914.5" stroke="#000" stroke-width="3"/>
<text x="219.79" y="961.4" font-size="42.4" text-anchor="middle" textLength="50.6" lengthAdjust="spacingAndGlyphs" stroke="#000" stroke-width="0.5">10</text>
<line x1="381.09" y1="900.0" x2="381.09" y2="914.5" stroke="#000" stroke-width="3"/>
<text x="381.09" y="961.4" font-size="42.4" text-anchor="middle" textLength="50.6" lengthAdjust="spacingAndGlyphs" stroke="#000" stroke-width="0.5">20</text>
<line x1="542.38" y1="900.0" x2="542.38" y2="914.5" stroke="#000" stroke-width="3"/>
<text x="542.38" y="961.4" font-size="42.4" text-anchor="middle" textLength="50.6" lengthAdjust="spacingAndGlyphs" stroke="#000" stroke-width="0.5">30</text>
<line x1="703.68" y1="900.0" x2="703.68" y2="914.5" stroke="#000" stroke-width="3"/>
<text x="703.68" y="961.4" font-size="42.4" text-anchor="middle" textLength="50.6" lengthAdjust="spacingAndGlyphs" stroke="#000" stroke-width="0.5">40</text>
<line x1="864.97" y1="900.0" x2="864.97" y2="914.5" stroke="#000" stroke-width="3"/>
<text x="864.97" y="961.4" font-size="42.4" text-anchor="middle" textLength="50.6" lengthAdjust="spacingAndGlyphs" stroke="#000" stroke-width="0.5">50</text>
<line x1="1026.26" y1="900.0" x2="1026.26" y2="914.5" stroke="#000" stroke-width="3"/>
<text x="1026.26" y="961.4" font-size="42.4" text-anchor="middle" textLength="50.6" lengthAdjust="spacingAndGlyphs" stroke="#000" stroke-width="0.5">60</text>
<line x1="1187.56" y1="900.0" x2="1187.56" y2="914.5" stroke="#000" stroke-width="3"/>
<text x="1187.56" y="961.4" font-size="42.4" text-anchor="middle" textLength="50.6" lengthAdjust="spacingAndGlyphs" stroke="#000" stroke-width="0.5">70</text>
<line x1="1348.85" y1="900.0" x2="1348.85" y2="914.5" stroke="#000" stroke-width="3"/>
<text x="1348.85" y="961.4" font-size="42.4" text-anchor="middle" textLength="50.6" lengthAdjust="spacingAndGlyphs" stroke="#000" stroke-width="0.5">80</text>
<text x="744" y="87.7" font-size="51" text-anchor="middle" textLength="971" lengthAdjust="spacingAndGlyphs" stroke="#000" stroke-width="0.6" xml:space="preserve">Combined (GIM), 2013-12-23 23:00 UT</text>
<g clip-path="url(#c1)" shape-rendering="geometricPrecision">
<rect x="58" y="1098" width="1372" height="677" fill="#00009f"/>
<path fill="#0000e3" d="M58 1093l1378 0 0 686-1384 0 0-686zM1082 1117l-28 7-18 2-14-1-30-7-15-1-67 0-48 5-42-2-36 3-36-3-8 2-18 9-10 4-8 3-12 1-10-1-8-2-34-13-14-4-10 0-6 1-32 10-18 2-10-1-8-1-30-10-10-1-14-1-18 0-34 4-20 3-11 4-7 4-5 4-3 6-1 6 2 10 3 6 4 6 6 4 30 16 31 12 13 6 9 6 6 6 5 10 3 8 3 16 2 14-1 12-8 22 0 6 1 2 4 6 6 6 10 6 12 6 14 4 12 1 13-1 35-8 16-1 20 0 24 1 48 5 36 5 12 0 12-1 18-5 12 0 12 2 11 4 8 6 9 10 8-4 6-2 18 2 18-5 6 0 6 0 10 3 8 5 4 3 4 6 1 6-3 10-8 12-6 8-2 0 0 4 2 0 9 5 8 3 15 4 40 2 44 5 18 3 22 2 8 2 18 7 10 2 6 0 8-2 6-3 16-9 10-9 10-16 6-12 6-18 16-54 14-36 15-36 5-8 5-10 10-12 13-12 22-17 41-33 4-6 2-6-1-4-2-2-2-2-6-3-6-2-34-4-66-9-14-1-16 1-8 2-22 5-12 2-14-2-24-6-6 0zM839 1363l-8 8-7 7-41 21-5 2 2 4 20 12 7 2 21 6 14 4 8 0 10 0 12-2 14-4 6-4 9-6 9-8-1-4-35-25-6-3-9-1-5-2-7-5-5-4zM662 1411l-20 6-20 9-12 5-5 4-2 2 2 4 5 1 4 0 14-4 18 0 26-3 9-4 7-2 8-6 2-4-1-2-4-4-8-2-11-2z"/>
<path fill="#0014ff" d="M134 1125l24-2 36 1 38 2 18 3 30 7 30 12 12 6 40 23 32 24 5 6 4 8 3 6 22 15 5 7 4 6 3 8-1 10-5 10-13 16-2 6 0 6 3 7 4 5 31 16 43 15 20 5 18 3 10 0 8-1 34-9 18-3 14 0 22 1 18 3 44 11 6 1 6 4 4 2 2 4 0 2 0 4-2 2-6 6-7 4-9 2-24 4-14 3-18 7-30 12-10 3-8 1-34 1-8 2-10 3-5 4-2 2 0 4 0 2 1 4 6 6 11 6 11 1 14 0 16-2 18 2 14-3 16-1 14-3 22-2 48-9 18-6 26-2 6 1 18 7 54 7 27 0 39-4 18-1 48 0 28 2 36 7 18 4 15 8 17 12 6 2 6 1 16-2 8-3 10-4 14-11 12-13 9-12 10-18 11-28 9-26 9-19 11-15 8-14 37-34 5-6 10-14 14-30 4-6 5-6 8-8 16-9 44-26 16-8 30-13 6-2 6 0 0 632-1384 0 0-641 10 0 48-10zM1027 1525l-10 2-7 4-8 6-5 6-3 8 1 10 1 8 2 4 2 2 6 1 12 0 12-1 10-3 18-9 16-8 8-6 3-6 0-6-1-4-3-2-5-3-34-5-8 0zM972 1599l-16 5-16 4-8-1-22-4-6 1-8 1-10 3-14 7-10 4-24 5-6 4-1 1 0 4 1 2 4 4 6 3 8 3 30 4 10 1 8-1 12-4 22-11 6-3 25-4 8-4 9-4 2-2 4-6 0-2 0-6-4-4-2-1z"/>
<path fill="#0050ff" d="M142 1149l24-1 28 0 20 2 18 3 21 6 19 7 20 10 14 9 21 18 7 10 5 9 2 9 0 12-2 8-10 28-2 6 0 6 1 2 4 4 18 12 24 7 14 3 4 1 11 9 3 3 24 10 24 6 40 13 24 7 14 2 12 0 16-4 30-10 12-2 14-1 12 1 16 4 12 5 4 2 3 4 1 2 0 4-2 2-7 6-21 12-24 11-8 2-16 1-8-1-24-3-12 0-10 2-8 5-6 6-4 6 0 7 2 6 3 6 6 6 8 6 11 7 10 2 8 1 18-2 16-4 18 2 14-3 16-1 14-3 28-1 42-7 20-4 22-2 8 2 18 6 70 8 44 0 72-1 17 0 14 3 12 3 15 6 6 4 2 3 3 5 0 4-2 2-3 3-10 3-30 7-14 4-16 6-28 13-5 4-5 4-22 23-11 9-9 4-13 5-15 4-62 12-24 7-30 4-16 3-18 6-13 5-14 10-10 8-2 4-3 6 0 6 4 5 2 3 10 7 8 4 30 9 10 1 20 1 18 3 9 3 5 2 2 4-1 2-3 4-8 3-30 6-17 5-25 7-40 17-18 6-10 6-2 2-2 2 14 3 16 0 20 2 16-1 14 1 18-2 18-6 10 0 12 1 29 10 13 1 14-2 24-7 16-4 12-1 24-1 24-6 5-4 1-2 0-4-5-6-13-11-5-7 0-2 1-6 6-6 12-6 14-6 26-8 8-4 52-27 18-12 8-5 28-12 20-7 10-6 6-9 3-10 6-20 3-24 4-12 4-8 6-8 33-32 13-17 10-19 14-31 29-59 15-28 6-6 16-6 18-9 20-8 11-7 4-6 3-6 1-6 1-14 2-10 5-8 10-10 18-12 36-18 11-4 4-1 6 0 0 593-1384 0 0-607 10-1 25-10 25-7 16-3zM772 1531l-5 2-1 4 2 2 6 4 4 1 6 0 5-1 1-4-1-2-3-4-4-2-4-1z"/>
<path fill="#008cff" d="M140 1176l12-1 12-1 20 0 12 1 18 5 7 3 7 6 2 2 2 6-1 6-5 5-13 11-2 2-1 6 2 5 2 4 16 11 8 8 5 6 3 6 1 6 0 8-7 24 0 6 2 4 20 6 40 4 38 11 40 7 20 5 15 5 43 18 12 6 10 6 5 6 2 6-3 16 1 6 2 6 3 6 24 25 16 11 10 6 10 2 12 0 22-2 12-4 14 1 19-4 15 0 14-3 30-1 34-3 38-5 10 0 6 1 12 4 6 1 32 5 22 1 18 3 24 3 12 2 10 5 8 5 2 7-1 6-3 6-7 8-24 22-9 5-6 2-10 1-12-1-14-5-40-23-8-4-6-2-6-1-10 0-18 2-6 2-14 11-21 13-11 8-3 6-1 6 0 4 6 8 3 6-1 6-1 4-5 6-12 12-34 26-6 6-5 6-3 6-1 10 5 18 1 8-1 6-2 4-5 6-10 6-17 6-48 13-24 2-20 4-18 0-22 3-26 1-15 3-7 3-4 3-2 4-1 2 1 4 6 6 10 5 18 7 14 3 34 3 20 0 8 2 0 6-476 0 0-540 6 0 4-1 8-6 12-9 10-8 17-20 9-10 10-5zM107 1290l-6 1-6 2-1 4 2 2 4 6 8 6 15 6 11 3 14 2 16 0 15-5 6-2 3-4 0-3-3-3-3-2-16-5-14-6-6-2-10-1zM1426 1256l4-1 6 0 0 524-404 0 0-6 8-2 60-5 12-3 20-8 5-2 3-4 1-2-3-6-6-6-9-6-27-12-30-9-12-7-6-4-3-4-2-6 2-6 5-6 8-6 11-6 15-6 16-4 44-6 40-9 8-3 6-2 4-4 2-2 1-4-1-2-2-4-12-11-10-10-7-11-5-12-2-12 0-12 3-16 5-8 10-12 33-34 9-10 4-8 2-6 6-26 6-16 6-7 6-7 22-22 9-8 3-6 7-18 7-9 6-5 20-11 21-9 15-8 16-6 5-4 9-6 7-6 15-18zM592 1368l18-1 10 0 4 2 4 2 2 4 0 2-2 4-5 6-11 6-10 3-12 1-10-1-7-3-4-4-2-2 0-4 2-2 3-4 11-6z"/>
<path fill="#00c8ff" d="M1414 1314l22-1 0 312-6 0-16-5-36-6-48-4-12-2-8-3-16-7-23-17-9-5-28-11-8-4-6-7-4-5 0-4 0-6 2-6 2-6 4-6 5-6 27-24 8-8 4-6 2-6 2-10 3-30 3-8 6-10 12-12 24-18 6-6 6-8 11-22 5-6 6-6 10-5 14-5 16-7 8-2zM58 1315l21 5 27 8 30 6 12 2 18 0 40-1 8 1 18 4 34 4 36 2 60 13 32 6 10 2 8 4 18 10 12 9 5 5 4 6 8 22 4 6 3 3 8 5 16 10 19 14 21 15 8 5 10 3 12 0 20-2 6-1 12-5 12-1 18-4 34-2 32 1 34 4 11 3 3 2-1 3-4 3-20 16-19 12-24 13-12 5-16 5-19 3-17 5-18 1-6 4-4 2-1 4 0 2 2 6 3 4 6 5 12 8 18 8 4 4 0 5-2 6-4 6-24 20-8 10-3 6-1 6 3 18 0 6-1 2-4 6-4 4-6 3-12 4-12 3-40 1-24-3-18-1-24-5-21-2-15-3-6 0-20 4-30-1-10 2-14 5-12 5-10 5-4 3-4 6-12 22-6 8-11 6-13 5-18 4-24 4-66 6-64 0-30-1 0-103 6 0 46 4 44 8 42 2 52-3 12-1 6-3 6-2 6-5 1-5-1-6-3-2-3-3-10-3-8-2-12-1-28 0-42-4-12 0-24 3-12 0-8-1-40-8-18-1 0-316zM377 1635l-6 4-4 2-2 4-1 2 1 4 4 6 5 3 8 4 10 3 8 2 10 0 30-4 6-2 6-4 4-2 2-4 1-2-2-4-4-2-12-6-8-3-9-1-33-2-5 0zM808 1476l18 1 22 0 25 6 7 2 3 4 1 2 0 6-3 6-3 4-8 6-4 1-6 1-10-1-12-4-11-7-12-8-11-10-2-2-1-4 5-2zM1426 1665l10-1 0 101-34-1-24-2-20-3-18-5-12-5-14-8-32-27-12-7-8-4-10-3-24-5-8-2 2-2 6-1 24 2 24 0 24-5 82-18 12-1 20-1z"/>
<path fill="#19ffde" d="M58 1330l18 2 64 12 32 3 30 1 34 8 24 4 44 3 16 3 48 13 26 4 10 2 8 4 6 6 5 10 3 14 5 6 9 9 14 9 28 13 18 11 13 10 23 20 5 3 7 3 6 0 8-1 30-10 16-8 14-5 10-1 24 0 14 1 10 3 6 2 2 3 2 2 1 2-1 4-2 2-5 6-13 9-14 6-16 5-24 3-12 1-24-3-18-3-8-1-10 1-8 5-5 5-2 2-1 4 1 6 4 8 21 30 3 6 1 6-2 6-2 4-10 7-8 4-18 0-18 2-40 2-102-6-32 2-28 4-38-1-70 4-18 0-30-1-14-2-24-5-34-9-12-2-6 0 0-272zM1420 1332l16-1 0 259-6 0-6-1-34-8-25-8-20-10-14-8-8-6-5-6-5-10-4-12 0-6 3-18 1-8-1-12-5-22-1-8 2-10 3-6 5-6 6-4 25-16 10-10 5-6 3-6 9-24 7-8 8-6 11-6 8-4zM110 1701l14 2 36 10 4 4 2 2-1 4-3 2-7 4-29 6-14 1-12-1-26-4-16-3-6 0 0-24 34 0z"/>
<path fill="#49ffad" d="M58 1341l24 2 54 8 40 5 24 2 8 2 24 9 21 5 15 2 30 1 19 3 69 20 6 3 2 2 3 2 4 10 7 8 14 16 8 8 12 6 42 17 12 7 6 6 3 6 0 4 0 6-2 6-9 17-2 9 1 6 3 10 15 24 1 6-1 6-6 6-9 4-24 7-8 1-30-1-30-2-48 0-58 1-42 0-80 4-24-2-16-3-60-22-14-4-10 0 0-233zM1424 1350l6-2 6 0 0 214-6 0-10-2-35-15-8-6-9-8-5-6-3-7-6-29-7-24-2-10 1-8 2-5 4-5 7-6 27-14 10-10 4-8 2-6 1-18 3-10 7-8zM620 1491l12-2 12 0 8 3 3 3 1 2-2 4-4 2-10 5-12 2-11-1-7-2-1-4 0-2 2-4 2-2z"/>
<path fill="#7dff7a" d="M64 1353l18 0 22 1 38 4 30 5 22 3 12 4 26 11 18 6 16 2 32 2 24 4 58 21 8 4 12 8 9 9 5 10 2 12 2 2 4 4 6 2 24 7 12 5 6 4 6 6 2 2 0 6-1 6-6 16-2 12 1 8 8 24 0 6-2 6-6 6-4 4-6 2-8 1-16 2-36-1-42 0-80-2-64 2-32-2-18-2-12-4-6-3-18-10-18-8-18-10-30-10-4-1-6 0 0-101 6 0 12 3 10 0 6-1 6-3 3-2 0-4-3-2-16-11-12-4-6-2-6 0 0-58zM1427 1437l9 0 0 91-6 0-10-4-8-6-9-9-5-6-6-8-3-10-2-8 0-6 1-6 2-7 4-5 6-5 7-5 11-3z"/>
<path fill="#adff49" d="M82 1365l16-2 36 1 12 1 18 5 24 4 8 2 6 3 30 20 10 5 8 1 22-2 12 0 20 3 12 3 14 4 40 20 6 1 12-2 8 3 4 2 2 4 2 2-1 4-3 1-2 1-10 1-2 1-3 2-1 2 1 6 3 4 6 5 17 7 26 14 5 4 4 6 3 6 0 6 1 20 3 22-1 6-1 2-1 4-6 4-6 3-7 1-13 2-52 2-38-2-42-4-54 0-30-4-22-1-8-2-8-3-22-14-24-8-19-10-21-7-18-9-6 0 0-57 28 0 26 0 42-2 30-6 7-3 2-4 1-2-2-4-4-2-24-5-36-11-27-12-15-8-10-10-3-6-1-2 2-6 2-3 4-3zM1430 1474l6 0 0 13-6 0-4-4 0-5z"/>
<path fill="#deff19" d="M118 1374l10-1 8 0 7 2 15 5 24 5 6 2 6 5 3 7 0 2-2 4-5 3-6 2-8 1-10 0-26-3-12-3-9-4-10-6-7-6-2-2-1-4 1-2 4-3zM280 1425l16 0 14 3 12 5 24 12 12 8 13 15 5 5 16 10 4 2 8 11 11 13 4 6 2 6 3 10 0 8-2 10-4 5-5 3-3 2-16 3-17 2-31 0-18-1-30-7-12-2-14 0-36 1-22-2-24-7-18-2-6-2-18-8-18-3-6-2-6-3-12-9-18-9-6-5-7-6-5-8-1-4 1-2 2-4 4-2 6-2 40-4 26-1 30-3 12-3 14-5 22-11 18-6 25-13z"/>
<path fill="#ffdb00" d="M308 1466l6-1 6 0 8 2 10 4 9 6 23 19 4 5 6 7 4 7 2 6 0 6-1 4-4 6-4 2-7 3-8 1-10 0-14-2-6-3-7-5-5-6-3-6-6-30-8-18 0-2 1-3zM226 1470l22-1 18 2 8 2 2 4 0 2-1 10-3 12-5 12-4 6-3 3-6 4-16 6-8 3-10 2-8 0-18-5-24-4-22-9-19-6-13-10-3-2-1-4 0-2 2-4 8-3 63-9 27-6z"/>
<path fill="#ffa300" d="M206 1497l8-2 6 0 5 2 3 4 0 2-2 4-3 2-9 4-6 0-6-1-6-3-3-2 1-4 3-2z"/>
<g transform="translate(0,985)" fill="none" stroke="#000" stroke-width="3.8" stroke-linejoin="round" stroke-linecap="round"><path d="M105 198L111 188L124 183L140 178L149 176L167 178L182 179L201 181L217 183L228 185L236 183L252 181L259 179L271 183L286 182L302 185L313 188L329 189L337 191L337 186L348 187L364 189L375 188L383 188L385 183L382 177L389 174L394 178L398 183L404 186L412 189L418 191L422 189L425 183L435 182L440 184L439 189L435 194L427 196L422 196L418 200L416 203L406 205L396 210L391 216L388 220L389 225L395 230L404 231L414 234L425 238L436 238L437 245L440 250L443 253L447 252L449 247L447 242L454 237L458 231L455 227L451 224L455 220L452 214L453 210L466 211L478 215L484 216L485 223L491 226L499 224L503 218L506 221L513 227L516 233L522 238L532 241L534 245L537 248L538 252L532 253L526 257L516 257L506 257L497 257L493 261L487 265L481 270L485 267L495 262L505 262L505 265L501 267L503 270L505 273L510 274L516 274L521 271L522 274L517 277L509 279L503 282L499 283L498 280L504 276L499 277L495 278L487 281L483 283L480 286L481 290L483 290L479 291L474 292L468 294L468 298L464 301L462 299L463 303L460 308L459 302L458 308L461 310L462 314L458 317L453 320L449 322L442 327L440 331L440 335L442 341L445 348L444 353L440 354L438 350L434 344L434 339L430 335L424 336L420 334L412 334L408 335L409 338L404 338L398 337L391 336L387 338L381 342L378 346L378 351L376 358L376 365L378 371L382 377L387 379L391 381L396 380L401 378L403 375L405 370L412 368L418 368L416 374L415 380L413 382L413 387L411 390L416 390L422 390L427 390L432 393L431 401L430 407L431 410L435 414L439 417L443 416L447 414L450 415L455 417M455 421L452 422L450 419L447 416L444 419L445 422L442 423L439 421L434 419L431 418L430 414L425 412L422 409L420 405L416 401L412 400L406 398L400 397L394 392L389 389L385 390L380 390L373 388L367 385L361 382L354 380L348 376L346 372L347 368L344 363L338 357L333 353L331 349L327 345L321 340L318 335L316 331L311 329L310 332L313 336L317 341L320 346L323 351L326 356L330 359L331 362L328 362L323 357L320 353L317 348L312 346L313 342L310 338L306 335L303 329L301 325L296 320L288 318L287 314L283 310L281 306L279 302L276 298L274 295L274 290L273 285L275 278L275 272L272 265L279 265L281 269L281 264L278 261L272 258L263 255L260 250L254 245L250 240L246 237L242 232L236 227L230 225L223 224L215 220L205 220L196 219L188 216L181 218L175 221L168 223L170 217L165 216L160 222L158 227L151 230L143 234L136 237L126 239L117 241L124 237L132 235L140 232L145 229L147 225L140 225L135 224L128 225L128 220L120 220L115 216L113 212L117 208L124 208L131 206L133 202L126 202L117 202L111 201L105 198M455 417L457 420L462 414L465 409L472 407L478 404L478 409L476 414L479 414L479 409L483 407L489 408L491 410L499 410L505 412L512 410L515 412L518 416L522 419L528 424L533 428L541 428L549 430L555 434L557 440L561 444L561 450L566 453L574 455L582 459L588 461L595 462L601 463L607 466L613 470L617 471L619 478L618 486L615 491L610 496L605 501L603 509L603 518L600 526L596 534L592 539L586 540L580 542L572 546L566 550L566 557L564 562L560 567L555 574L551 579L546 584L541 586L534 585L529 582L532 588L534 593L530 598L522 601L514 601L513 607L503 608L503 613L507 615L503 618L501 625L494 628L493 631L499 634L497 639L491 644L487 650L489 653L483 654L479 658L474 657L468 653L464 650L462 642L463 634L467 626L470 621L472 613L469 609L469 603L471 596L473 589L476 580L478 571L478 561L480 551L482 542L483 532L482 522L478 518L470 514L463 510L459 504L456 498L452 491L449 484L445 477L440 473L440 468L444 464L445 461L441 459L442 455L444 450L449 446L450 441L454 438L455 434L454 429L455 421M489 654L481 658L478 660L483 663L491 665L497 664L502 662L495 660L490 657L489 654M518 651L524 649L530 650L528 652L521 652L518 651M491 158L479 154L473 149L491 144L503 139L518 135L541 134L568 132L591 130L618 129L646 130L661 132L676 135L700 136L707 138L690 142L678 146L680 152L673 156L676 161L674 165L667 168L659 172L667 175L669 179L657 179L651 182L661 183L651 186L638 188L628 189L622 194L613 197L600 198L596 203L591 209L588 216L584 220L578 218L568 216L562 212L557 206L552 200L547 195L546 191L553 186L557 182L545 182L542 178L553 178L549 175L539 174L541 169L534 164L528 160L516 157L503 157L491 158M660 198L667 195L676 196L686 196L692 194L698 196L701 200L697 203L690 205L680 206L671 205L667 203L669 201L661 201L667 199L660 198M443 167L456 167L472 173L483 178L491 180L495 185L506 191L516 194L508 200L501 202L503 208L491 210L481 208L474 205L466 202L453 203L452 199L468 198L470 193L473 189L458 187L450 181L443 182L427 181L414 179L408 176L407 170L412 167L423 167L429 170L439 170L443 167M302 167L313 169L325 171L340 169L348 171L348 177L360 180L364 183L356 186L344 185L329 186L315 186L306 184L300 180L308 178L298 175L296 171L302 167M271 173L277 166L290 164L306 168L296 173L288 176L277 176L271 173M410 156L425 154L445 157L454 154L460 148L468 144L483 142L499 139L514 134L499 131L476 130L445 131L422 134L402 137L406 140L422 141L425 146L418 149L410 152L410 156M387 156L402 155L422 159L445 160L445 163L422 164L398 163L387 156M302 157L321 157L340 158L344 162L329 164L313 162L302 160L302 157M360 156L375 156L379 160L367 162L360 159L360 156M360 167L371 166L379 169L379 174L369 175L360 171L360 167M385 166L398 166L404 169L396 173L387 173L385 169L385 166M383 140L402 141L418 144L406 149L387 148L383 144L383 140M418 199L429 197L439 202L444 206L433 208L423 206L418 204L418 199M525 267L532 256L538 252L539 258L547 261L550 268L546 271L539 270L537 267L525 267M426 367L433 362L441 362L449 365L456 367L462 371L467 373L461 374L454 374L456 371L449 368L438 365L431 365L426 367M466 380L472 374L478 374L484 375L489 379L483 380L478 383L474 381L466 380M451 380L456 380L459 382L454 382L451 380M494 380L500 380L500 382L494 382L494 380M151 373L155 375L153 378L151 375L151 373M136 366L143 368L147 370L150 371M717 285L723 282L734 283L746 284L749 279L749 274L745 269L736 266L736 264L746 263L747 260L753 260L759 257L763 254L769 250L773 246L781 245L786 243L786 237L785 231L794 228L794 233L792 238L795 243L802 241L809 243L817 241L825 240L830 241L835 238L835 232L841 228L848 230L847 226L844 223L854 221L862 221L870 220L864 218L854 218L842 220L837 217L836 212L837 207L846 201L851 199L846 197L839 198L836 202L823 209L820 214L821 218L826 220L819 225L817 231L815 234L810 235L804 237L802 234L798 227L796 223L793 222L786 227L781 227L775 223L773 218L773 212L781 208L792 204L800 198L806 193L812 188L821 184L831 181L842 178L854 177L864 178L873 180L870 182L881 183L893 184L908 189L912 193L902 196L889 194L881 193L887 197L888 202L898 204L907 202L910 197L916 195L924 196L926 191L924 187L931 188L933 193L943 189L958 188L966 187L978 185L987 186L989 182L1001 184L1012 186L1018 188L1014 183L1012 178L1012 173L1020 169L1030 169L1034 174L1032 181L1035 187L1039 189L1032 195L1038 193L1043 189L1041 185L1038 179L1041 171L1047 173L1055 173L1065 170L1065 167L1082 166L1090 162L1101 159L1117 158L1132 157L1148 153L1156 151L1165 154L1175 156L1186 156L1192 160L1178 166L1188 166L1202 167L1213 169L1231 167L1244 167L1252 173L1252 177L1262 178L1267 175L1283 175L1294 175L1294 171L1318 172L1333 174L1345 177L1364 178L1372 182L1379 183L1395 183L1412 182L1410 186L1430 182L1449 185M58 200L78 201L87 203L86 196L97 196L89 193L78 191L66 188L58 186M58 200L64 202L63 207L58 209M1449 200L1443 202L1439 201L1444 207L1447 210L1430 211L1420 216L1412 220L1402 218L1389 220L1384 225L1381 228L1384 232L1379 235L1379 240L1372 242L1366 247L1359 254L1355 250L1354 243L1355 235L1359 228L1368 225L1377 218L1386 215L1387 210L1374 213L1370 213L1359 214L1350 220L1341 223L1337 221L1329 221L1318 222L1304 223L1287 229L1277 239L1285 243L1294 242L1299 247L1298 251L1296 256L1295 264L1289 270L1281 277L1275 283L1267 286L1260 287L1258 288L1255 291L1254 294L1246 297L1250 302L1253 308L1253 314L1246 317L1242 318L1242 312L1243 308L1239 305L1236 302L1238 299L1234 297L1227 299L1222 301L1225 295L1221 293L1215 297L1209 300L1208 302L1212 305L1215 308L1220 305L1227 307L1226 309L1219 312L1214 316L1218 319L1221 324L1224 328L1224 332L1219 334L1225 336L1223 342L1217 348L1214 353L1209 356L1205 361L1198 363L1192 365L1186 367L1180 369L1178 373L1177 368L1172 368L1167 370L1163 374L1162 378L1165 383L1169 387L1173 391L1176 399L1175 405L1171 409L1167 411L1166 414L1160 417L1159 412L1153 410L1150 405L1144 402L1143 399L1140 400L1140 405L1137 410L1137 415L1141 419L1144 425L1149 427L1153 433L1153 439L1156 446L1153 446L1148 442L1145 439L1143 436L1141 430L1141 426L1139 424L1134 419L1133 416L1134 409L1135 403L1133 397L1131 392L1131 387L1128 385L1122 390L1118 389L1118 383L1118 378L1115 375L1110 371L1109 366L1105 364L1102 367L1097 367L1092 368L1089 372L1087 374L1082 377L1076 382L1071 387L1066 390L1063 393L1063 400L1062 405L1062 411L1059 415L1056 417L1053 420L1049 416L1047 410L1044 405L1041 398L1039 391L1037 386L1035 378L1034 371L1034 368L1028 371L1025 370L1020 365L1024 364L1017 360L1014 356L1010 353L1003 354L991 354L982 353L975 351L972 347L965 348L958 347L953 343L948 336L943 334L939 336L942 343L947 348L950 355L953 351L953 356L958 358L964 358L970 351L972 350L972 355L980 360L985 365L981 371L977 374L976 378L968 383L958 387L954 391L943 396L935 399L927 402L922 402L920 395L919 388L914 382L908 373L904 367L902 360L897 355L893 347L889 343L888 339L886 343L883 341L880 335L879 339L883 346L889 355L892 360L896 366L897 372L898 378L903 382L907 390L912 394L918 400L921 405L921 407L926 410L933 409L943 407L951 405L951 411L945 422L939 432L931 440L922 448L916 454L910 461L906 468L904 475L906 481L906 488L910 492L910 500L911 508L907 515L898 519L893 524L888 528L890 536L891 544L883 548L880 552L880 559L875 565L871 571L864 577L856 582L846 583L839 583L831 585L825 583L824 577L822 571L817 562L813 555L810 547L809 538L805 530L800 522L799 515L802 507L806 498L807 491L804 485L801 475L799 468L792 462L788 455L790 447L792 440L790 436L787 433L781 434L776 434L771 427L763 427L758 428L750 431L744 432L738 431L730 432L725 434L719 432L712 426L705 422L702 417L698 410L694 405L689 403L689 398L686 394L689 390L691 383L691 377L689 370L688 367L692 360L696 355L698 350L703 344L709 341L715 336L716 331L718 326L725 321L729 318L731 313L736 315L743 315L748 314L754 313L759 310L767 309L777 308L785 309L792 307L796 309L794 313L793 319L797 323L803 324L812 326L814 330L821 332L828 334L831 331L831 326L837 324L843 326L850 329L860 331L867 332L873 329L878 330L885 330L889 326L891 320L893 314L893 310L887 309L879 312L872 310L866 311L859 309L856 303L857 299L855 297L860 295L866 293L867 292L875 292L883 289L890 290L895 292L902 293L910 293L914 291L913 287L907 283L902 280L898 277L901 273L905 269L898 270L890 273L892 276L885 280L882 277L878 273L873 272L868 277L864 281L861 287L862 291L855 293L846 294L842 296L846 297L842 300L846 304L843 306L841 310L837 309L836 304L832 299L829 295L829 290L825 287L819 284L814 281L811 277L807 275L802 276L801 280L806 283L810 288L816 289L823 294L825 296L821 296L819 298L820 301L816 304L814 304L815 300L812 296L808 293L803 291L798 288L793 284L792 281L788 280L783 282L777 285L770 284L766 285L766 289L761 292L756 294L753 299L754 301L751 304L747 308L739 309L733 311L729 310L726 308L720 308L720 302L717 301L720 295L720 290L718 285L717 285M937 285L945 295L943 302L949 308L960 309L961 301L958 297L958 290L953 284L949 279L956 275L952 270L943 272L937 277L937 285M733 258L740 256L749 255L759 254L760 248L755 247L754 243L748 239L746 235L742 234L746 229L739 228L741 225L734 225L730 229L732 234L734 238L740 239L742 243L736 245L737 249L734 251L740 253L736 254L733 258M715 252L723 252L730 249L730 245L732 240L725 238L721 240L715 242L716 246L715 252M796 146L808 142L827 141L846 141L858 143L842 147L837 150L825 154L815 155L810 151L798 148L796 146M953 175L960 170L966 164L978 159L993 157L1009 155L1019 156L1005 159L987 162L978 166L970 171L974 177L966 178L958 178L953 175M927 140L939 139L954 139L947 141L931 141L927 140M1121 145L1132 140L1151 144L1159 149L1140 150L1128 147L1121 145M1283 160L1302 158L1321 161L1333 162L1310 164L1290 164L1283 160M1443 176L1449 175M58 175L68 176L62 178L58 178M1302 242L1306 247L1307 254L1310 261L1306 268L1307 272L1302 274L1302 266L1301 258L1301 250L1302 242M1294 291L1300 287L1308 289L1316 284L1311 281L1302 276L1300 281L1295 284L1294 291M1299 291L1302 299L1298 304L1297 312L1294 316L1290 317L1283 318L1277 322L1275 318L1267 319L1260 320L1259 318L1265 314L1275 314L1281 309L1285 308L1289 306L1292 302L1294 297L1295 293L1299 291M1256 322L1262 321L1263 324L1261 330L1257 331L1255 325L1256 322M1265 320L1273 319L1273 321L1267 324L1265 320M1223 354L1224 356L1221 366L1218 362L1220 356L1223 354M1173 377L1180 374L1182 376L1177 380L1173 377M1219 380L1226 380L1226 387L1223 391L1224 396L1233 401L1231 402L1225 398L1220 398L1218 394L1217 388L1218 383L1219 380M1225 424L1231 418L1238 413L1241 418L1241 426L1238 429L1233 426L1225 424M1231 410L1236 407L1238 403L1237 409L1234 412L1231 410M1225 405L1229 407L1229 412L1226 410L1225 405M1206 419L1215 410L1214 409L1206 419M1175 445L1178 444L1184 441L1190 438L1196 432L1200 430L1205 424L1208 427L1211 431L1208 435L1209 442L1209 447L1207 454L1204 460L1202 466L1196 466L1190 463L1185 464L1180 462L1177 455L1175 450L1175 445M1122 429L1130 431L1133 435L1140 441L1146 444L1151 449L1155 455L1157 460L1163 463L1162 473L1157 473L1151 470L1146 463L1141 456L1136 449L1132 443L1126 437L1122 429M1160 477L1165 474L1173 476L1180 478L1189 478L1196 481L1195 484L1186 483L1178 482L1171 481L1165 480L1160 477M1216 448L1221 446L1229 448L1236 445L1234 449L1227 449L1220 450L1217 454L1223 454L1229 454L1227 458L1223 458L1227 463L1226 470L1223 468L1221 462L1218 463L1219 472L1215 472L1215 464L1212 462L1214 456L1216 448M1246 444L1249 445L1251 449L1247 449L1247 454L1246 448L1246 444M1231 491L1236 485L1244 483L1242 486L1236 489L1231 491M1202 483L1209 483L1217 483L1228 483L1227 485L1217 485L1209 485L1202 485L1202 483M1248 463L1258 463L1259 466L1252 464L1248 463M1213 488L1219 488L1219 490L1213 488M1260 454L1265 453L1271 454L1272 459L1275 464L1281 459L1287 457L1294 460L1300 461L1308 464L1314 468L1318 472L1323 474L1324 478L1319 480L1323 484L1327 486L1333 490L1335 492L1329 491L1323 490L1319 485L1314 481L1308 482L1307 486L1300 486L1294 482L1289 483L1287 478L1290 475L1287 472L1279 468L1271 466L1267 466L1267 463L1263 462L1269 460L1264 459L1260 456L1260 454M1327 473L1333 470L1339 467L1342 468L1341 472L1335 475L1329 475L1327 473M1336 461L1342 464L1345 469L1343 466L1337 462L1336 461M1351 472L1355 476L1353 477L1351 473L1351 472M1371 486L1375 488L1373 489L1371 486M1360 479L1368 483L1367 483L1360 480L1360 479M1374 483L1377 487L1375 487L1374 484L1374 483M1377 490L1380 493L1379 492L1377 490M1397 508L1399 512L1398 512L1397 508M1399 513L1402 515L1400 515L1399 513M1387 529L1393 533L1399 537L1396 537L1390 533L1387 529M1438 518L1443 519L1442 521L1439 521L1438 518M1062 414L1066 416L1070 422L1068 427L1063 428L1061 422L1062 414M944 497L948 505L948 512L946 517L944 522L942 530L939 538L936 545L929 549L924 547L922 540L921 534L925 528L924 520L924 516L929 512L935 509L939 504L944 497M1192 536L1195 538L1194 534L1200 531L1206 530L1213 528L1221 527L1226 520L1226 517L1231 518L1232 514L1236 511L1240 506L1244 505L1249 508L1254 508L1255 503L1259 499L1263 495L1269 497L1275 498L1282 497L1280 503L1277 508L1283 512L1290 517L1296 518L1298 513L1301 505L1301 499L1303 493L1306 497L1308 503L1312 506L1315 509L1316 516L1318 523L1323 526L1329 530L1332 537L1336 540L1341 545L1345 551L1346 559L1345 567L1343 574L1338 580L1336 586L1333 592L1332 596L1325 597L1319 601L1314 598L1308 601L1300 599L1294 596L1292 590L1287 588L1287 582L1285 587L1282 589L1286 578L1279 585L1277 584L1272 577L1263 574L1252 573L1240 576L1233 578L1231 582L1221 581L1215 583L1209 586L1202 585L1198 583L1199 579L1200 572L1198 567L1195 559L1192 553L1192 547L1192 542L1192 536M1312 608L1319 610L1326 609L1326 613L1324 618L1319 619L1316 616L1312 608M1421 584L1426 588L1431 593L1433 596M1430 611L1431 607L1426 603L1429 598L1428 592L1422 586L1421 584M1421 607L1426 611L1422 617L1418 620L1414 625L1412 628L1406 631L1401 629L1397 628L1402 621L1410 617L1416 612L1421 607M1019 639L1026 640L1025 642L1020 642L1019 639M279 158L294 153L306 156L294 159L279 158M381 160L391 159L393 163L383 163L381 160M369 183L379 182L385 186L375 187L369 183M348 146L367 146L371 150L352 151L348 146M441 167L456 168L460 171L445 171L441 167M321 149L333 148L333 151L321 152L321 149M505 259L514 261L505 260M157 231L165 227L167 230L159 232L157 231M258 255L269 257L277 264L269 263L258 255M240 243L245 243L248 250L242 247L240 243M515 410L518 410L518 412L515 412L515 410M786 293L791 293L791 300L786 301L786 293M787 286L790 286L790 291L788 291L787 286M802 304L814 304L812 309L802 306L802 304M845 314L855 315L848 316L845 314M879 316L887 314L884 317L879 316M796 237L802 236L801 239L796 237M824 228L827 228L825 231L824 228M1196 483L1200 483L1199 485L1196 483M1240 463L1245 464L1243 466L1240 463M1227 409L1230 410L1229 416L1226 413L1227 409M1219 399L1222 400L1222 404L1220 402L1219 399M1234 403L1238 403L1239 408L1236 407L1234 403M61 776L96 774L128 778L164 780L202 777L164 774L162 768L148 765L186 760L164 756L143 751L142 747L164 748L189 741L232 736L278 734L314 736L339 741L364 740L353 733L361 728L380 729L371 734L400 734L432 734L461 735M121 754L130 751L139 756L128 758L121 754M460 735L477 731L490 730L494 725L487 718L492 709L506 701L520 697L532 695L528 699L512 706L501 712L508 718L514 726L518 736L512 739L493 742L475 745L456 747L452 754L464 759L480 763L498 765L517 762L523 759L523 766L529 772L544 769L565 768L586 768L610 764L642 761L637 756L616 756L614 753L632 748L666 744L690 738L693 733L712 725L743 724M464 727L477 717L485 722L475 726L464 727M544 761L557 753L570 750L584 753L586 760L570 762L544 761M743 726L750 726L771 722L786 720L796 724L811 721L829 720L839 723L857 722L875 719L884 715L893 718L904 720L914 716L932 712L946 709L960 705M960 705L973 706L982 711L995 714L1002 710L1018 713L1022 718L1015 723L1020 729L1028 728L1037 720L1051 718L1059 714L1073 709L1088 709L1092 706L1097 710L1117 710L1136 710L1150 704L1163 708L1179 707L1190 705L1201 708L1216 710L1227 706L1249 707L1271 706L1275 703L1280 708L1296 708L1315 708L1320 713L1340 717L1349 716L1362 720L1377 723L1399 723L1413 727L1408 734L1393 738L1386 746L1388 752L1397 754L1377 757L1370 763L1380 768L1402 772L1417 775L1428 776"/></g>
</g>
<rect x="58.5" y="1098.5" width="1371" height="675" fill="none" stroke="#000" stroke-width="3"/>
<rect x="58.50" y="1816.5" width="81.25" height="68" fill="#00009f"/>
<rect x="139.15" y="1816.5" width="81.25" height="68" fill="#0000e3"/>
<rect x="219.79" y="1816.5" width="81.25" height="68" fill="#0014ff"/>
<rect x="300.44" y="1816.5" width="81.25" height="68" fill="#0050ff"/>
<rect x="381.09" y="1816.5" width="81.25" height="68" fill="#008cff"/>
<rect x="461.74" y="1816.5" width="81.25" height="68" fill="#00c8ff"/>
<rect x="542.38" y="1816.5" width="81.25" height="68" fill="#19ffde"/>
<rect x="623.03" y="1816.5" width="81.25" height="68" fill="#49ffad"/>
<rect x="703.68" y="1816.5" width="81.25" height="68" fill="#7dff7a"/>
<rect x="784.32" y="1816.5" width="81.25" height="68" fill="#adff49"/>
<rect x="864.97" y="1816.5" width="81.25" height="68" fill="#deff19"/>
<rect x="945.62" y="1816.5" width="81.25" height="68" fill="#ffdb00"/>
<rect x="1026.26" y="1816.5" width="81.25" height="68" fill="#ffa300"/>
<rect x="1106.91" y="1816.5" width="81.25" height="68" fill="#ff6c00"/>
<rect x="1187.56" y="1816.5" width="81.25" height="68" fill="#ff3400"/>
<rect x="1268.21" y="1816.5" width="81.25" height="68" fill="#e40000"/>
<rect x="1348.85" y="1816.5" width="80.65" height="68" fill="#9f0000"/>
<rect x="58.5" y="1816.5" width="1371" height="68" fill="none" stroke="#000" stroke-width="3"/>
<line x1="58.50" y1="1885.0" x2="58.50" y2="1899.5" stroke="#000" stroke-width="3"/>
<text x="58.50" y="1946.4" font-size="42.4" text-anchor="middle" textLength="25.3" lengthAdjust="spacingAndGlyphs" stroke="#000" stroke-width="0.5">0</text>
<line x1="219.79" y1="1885.0" x2="219.79" y2="1899.5" stroke="#000" stroke-width="3"/>
<text x="219.79" y="1946.4" font-size="42.4" text-anchor="middle" textLength="50.6" lengthAdjust="spacingAndGlyphs" stroke="#000" stroke-width="0.5">10</text>
<line x1="381.09" y1="1885.0" x2="381.09" y2="1899.5" stroke="#000" stroke-width="3"/>
<text x="381.09" y="1946.4" font-size="42.4" text-anchor="middle" textLength="50.6" lengthAdjust="spacingAndGlyphs" stroke="#000" stroke-width="0.5">20</text>
<line x1="542.38" y1="1885.0" x2="542.38" y2="1899.5" stroke="#000" stroke-width="3"/>
<text x="542.38" y="1946.4" font-size="42.4" text-anchor="middle" textLength="50.6" lengthAdjust="spacingAndGlyphs" stroke="#000" stroke-width="0.5">30</text>
<line x1="703.68" y1="1885.0" x2="703.68" y2="1899.5" stroke="#000" stroke-width="3"/>
<text x="703.68" y="1946.4" font-size="42.4" text-anchor="middle" textLength="50.6" lengthAdjust="spacingAndGlyphs" stroke="#000" stroke-width="0.5">40</text>
<line x1="864.97" y1="1885.0" x2="864.97" y2="1899.5" stroke="#000" stroke-width="3"/>
<text x="864.97" y="1946.4" font-size="42.4" text-anchor="middle" textLength="50.6" lengthAdjust="spacingAndGlyphs" stroke="#000" stroke-width="0.5">50</text>
<line x1="1026.26" y1="1885.0" x2="1026.26" y2="1899.5" stroke="#000" stroke-width="3"/>
<text x="1026.26" y="1946.4" font-size="42.4" text-anchor="middle" textLength="50.6" lengthAdjust="spacingAndGlyphs" stroke="#000" stroke-width="0.5">60</text>
<line x1="1187.56" y1="1885.0" x2="1187.56" y2="1899.5" stroke="#000" stroke-width="3"/>
<text x="1187.56" y="1946.4" font-size="42.4" text-anchor="middle" textLength="50.6" lengthAdjust="spacingAndGlyphs" stroke="#000" stroke-width="0.5">70</text>
<line x1="1348.85" y1="1885.0" x2="1348.85" y2="1899.5" stroke="#000" stroke-width="3"/>
<text x="1348.85" y="1946.4" font-size="42.4" text-anchor="middle" textLength="50.6" lengthAdjust="spacingAndGlyphs" stroke="#000" stroke-width="0.5">80</text>
<text x="744" y="1072.7" font-size="51" text-anchor="middle" textLength="1226" lengthAdjust="spacingAndGlyphs" stroke="#000" stroke-width="0.6" xml:space="preserve">Ionosphere  (h=450.0 km), 2013-12-23 23:00 UT</text>
<g clip-path="url(#c2)" shape-rendering="geometricPrecision">
<rect x="58" y="2083" width="1372" height="677" fill="#0000b6"/>
<path fill="#0018ff" d="M1112 2104l12 0 8 2 24 7 10 1 8-1 24-5 12 0 48 10 10 3 8 5 4 3 4 5 2 10-2 8-8 22-3 8-1 10 1 12 5 18 10 26 10 18 6 9 6 7 8 7 6 3 14 4 20 6 38 9 24 6 10 1 6 0 0 215-6 0-12-2-10 1-3 2-4 2-2 4-1 2 1 6 3 6 6 9 6 6 6 4 6 4 4 1 6 0 0 89-10 0-14-3-12-5-10-6-8-9-10-10-18-26-8-12-10-9-12-8-32-19-18-8-12-4-30-5-12 0-12 3-12 4-48 18-16 3-14 2-16-1-12-3-42-16-18-5-20-2-22 1-30 6-26 7-22 10-44 21-16 5-14 3-16 2-14 0-102-6-18-1-12 1-12 2-16 4-12 4-26 11-18 6-28 4-30 2-30-1-60-4-32 1-24 1-30-4-16-3-14-4-42-18-18-5-30-5-30-2-24-3-18-4-36-12-36-17-12-4-16-5-6-1-6 0 0-215 34-1 24 0 15-2 27-4 30-9 7-5 9-8 23-30 9-10 5-3 9-4 18-4 18-1 12-1 36 4 66 5 30 0 30 2 52 1 36-2 44-4 89-1 29-4 38-6 10-2 30-11 50-13 42-9 88-15 20-5 12-6 6-5 2-2 4-10 1-18 1-6 3-6 7-6 12-5 22-5zM58 2601l6 2 6 4 14 13 7 12 2 10-1 6-1 2-5 6-5 4-6 2-7 2-16 1 0-64zM1082 2683l14-1 22 1 54 7 42 7 92 19 66 13 46 6 18 0 0 29-1384 0 0-23 18 0 66 6 52 3 56-1 34 1 18 1 42 6 12 1 14-1 40-4 74-2 40 1 42-3 36 1 54-5 78-1 126-8 18-2 24-5 30-2 20-5 52-13 54-19z"/>
<path fill="#0080ff" d="M1130 2221l26 0 24 3 22 4 8 4 6 3 10 7 8 10 14 24 20 29 6 5 8 4 22 7 18 4 32 3 22 4 44 7 16 0 0 152-6 0-6-2-58-35-14-7-12-4-12-2-12 0-12 0-11 3-10 2-45 20-54 16-12 6-29 16-13 4-12 1-14-3-9-2-13-8-10-2-14-2-18 1-46 11-24 7-80 11-12 2-34 10-36 17-14 6-18 5-28 7-18 1-62-2-24 2-24 5-40 14-14 5-18 3-22 1-24-2-50-6-24-1-30 2-18-1-24-4-46-13-26-6-12-1-36-1-30-3-46-12-18-9-18-6-18-11-38-17-10-3-6 0 0-162 84-2 66 2 16-1 12-2 12-3 8-5 5-5 8-9 13-15 8-4 7-4 13-4 58-10 24-2 18 0 92 3 24-4 24 0 22-3 38-2 84 5 30-1 16-2 12-2 20-6 34-11 24-6 32-8 28-5 44-4 48-3 72-2 54-5z"/>
<path fill="#00e4f8" d="M956 2260l18-1 30 0 48 3 36 3 20 3 12 3 11 5 5 2 7 6 3 4 3 6 1 8-4 18-1 10 3 12 6 13 6 7 8 7 10 5 20 9 7 3 3 4 1 2 1 4-1 6-5 5-4 3-13 7-15 3-24 2-16-1-14-4-19-7-22-8-17-6-14-2-10 1-6 1-12 5-8 7-7 8-12 22-5 8-10 8-8 6-10 4-14 4-18 1-40 0-11 2-13 3-8 4-12 8-30 22-16 14-15 12-9 4-20 9-10 2-12 2-32 1-18-1-46-5-18 0-12 2-12 3-36 13-8 2-12 2-16-1-14-1-18-5-36-9-22-4-9 0-23 3-13 1-15-1-36-5-18-1-44 3-28 3-18-1-14-2-10-2-18-7-18 0-6-2-6-3-8-8-16-5-14-10-16-7-18-11-14-8-10-4-6 0 0-124 72-2 18 1 22 2 14 3 16 3 38 12 28 10 14 4 16 3 14 0 10-1 8-4 7-4 9-8 5-8 3-6 11-26 3-6 6-6 4-4 10-5 18-5 8-1 61-4 9 0 12 3 6 0 12-2 20-7 40-5 12 0 24 1 20 2 12 2 22 5 20 3 18 4 40 0 48-4 14-2 22-9 18-5 24-12 21-7 23-5 18-3zM1340 2356l14-2 16 0 66 3 0 111-7 0-11-6-22-16-26-21-16-9-32-18-12-8-3-6-1-6 0-4 4-6 3-2 9-5z"/>
<path fill="#53ffa4" d="M548 2317l18-1 18 0 21 4 9 3 6 3 8 6 5 6 5 10 9 23 5 7 4 1 2 1 6 0 36-7 12-1 12 0 10 1 8 3 19 10 11 10 14 14 9 16 5 12 4 14 0 16-2 12-6 12-12 12-14 10-13 10-17 9-6 2-10 1-20 1-24-1-30-8-22-8-8-2-12 0-10 1-6 2-20 9-22 7-14 3-18 0-16-2-32-9-22-9-12-3-18-3-18-1-18 1-42 4-32 5-20 7-8 2-30 5-14 1-24-2-10-3-18-6-6-1-8 0-6-1-12-11-17-8-13-9-40-22-18-12-6-2-6 0 0-88 6 0 24-3 28-1 20 0 18 3 22 4 12 4 38 13 28 11 36 12 18 4 14 1 16-4 8-4 10-5 12-10 23-24 15-11 6-4 24-8 40-15 50-14zM1414 2380l10-1 12-1 0 66-6 0-4-2-9-8-13-14-6-10-3-6-2-6 0-2 3-6 3-4 5-2z"/>
<path fill="#a4ff53" d="M544 2338l16 0 13 4 11 6 8 8 6 10 4 12 12 56 2 7 4 3 2 1 4 0 6-2 42-25 12-6 8-3 12-3 16-2 12 1 6 3 14 13 6 7 6 10 4 8 2 12 0 12-4 12-5 10-8 8-9 9-6 4-10 4-6 2-8 2-13 1-11-1-12-2-18-7-6-2-19-16-15-15-2-2-4-1-6 2-28 20-14 8-8 4-12 5-10 2-12 1-8 1-10-2-32-9-30-14-18-7-51-11-33-8-4 0-2 2-26 22-20 14-12 7-13 5-19 5-12 2-12 0-12-1-9-2-18-6-13-6-36-24-24-15-24-13-26-17-4-2-6 0 0-46 6 0 16-5 14-3 18-1 18 0 17 2 19 6 60 20 46 17 42 22 12 6 14 5 6 1 6-4 19-21 27-28 15-18 16-12 31-16 36-14 30-9z"/>
<path fill="#f8f500" d="M512 2362l14-2 16 1 12 2 9 5 9 9 5 9 5 12 3 18 0 18-1 16-3 12-7 12-8 8-12 9-12 5-16 4-8 0-10-2-18-5-12-5-36-21-13-9-10-8-1-4-2-6 0-8 3-6 3-6 9-12 13-12 14-10 19-12 19-8zM106 2404l10-1 12 1 20 4 66 19 36 13 10 4 8 6 9 8 5 10 1 6-2 6-5 8-11 10-11 6-16 5-8 1-12 0-12-2-16-5-12-6-20-16-46-31-12-10-6-5-6-9-1-6 0-4 2-2 5-6zM698 2431l8-2 10 0 8 2 6 2 6 4 4 3 3 7 3 9 1 8 0 6-3 12-3 6-2 4-5 4-10 4-8 4-10 1-8-1-10-2-8-3-6-3-6-4-5-6-3-6-1-6 1-10 2-6 4-6 6-6 8-6 8-5z"/>
<path fill="#ff9400" d="M520 2380l12 1 10 2 6 3 7 6 6 10 3 8 2 10 1 12-1 12-2 8-4 9-6 7-7 6-11 6-10 3-8 0-10-1-12-3-12-6-12-7-9-8-8-8-4-6-1-10 1-8 4-10 5-6 10-8 12-9 14-7 12-4zM185 2446l11-1 12 2 12 3 14 6 9 6 5 6 1 6-1 6-4 3-6 4-6 3-6 2-8 0-6-1-12-5-10-6-7-6-5-6-3-6-1-6 0-4 3-2z"/>
<path fill="#ff3800" d="M508 2404l12-1 6 0 6 3 6 4 3 4 3 6 2 6 0 12-1 6-3 6-4 3-6 5-6 3-6 2-6 1-6-1-6-1-6-4-6-3-5-5-4-6-2-6-1-6 2-6 2-5 3-5 5-4 6-4z"/>
<g transform="translate(0,1970)" fill="none" stroke="#000" stroke-width="3.8" stroke-linejoin="round" stroke-linecap="round"><path d="M105 198L111 188L124 183L140 178L149 176L167 178L182 179L201 181L217 183L228 185L236 183L252 181L259 179L271 183L286 182L302 185L313 188L329 189L337 191L337 186L348 187L364 189L375 188L383 188L385 183L382 177L389 174L394 178L398 183L404 186L412 189L418 191L422 189L425 183L435 182L440 184L439 189L435 194L427 196L422 196L418 200L416 203L406 205L396 210L391 216L388 220L389 225L395 230L404 231L414 234L425 238L436 238L437 245L440 250L443 253L447 252L449 247L447 242L454 237L458 231L455 227L451 224L455 220L452 214L453 210L466 211L478 215L484 216L485 223L491 226L499 224L503 218L506 221L513 227L516 233L522 238L532 241L534 245L537 248L538 252L532 253L526 257L516 257L506 257L497 257L493 261L487 265L481 270L485 267L495 262L505 262L505 265L501 267L503 270L505 273L510 274L516 274L521 271L522 274L517 277L509 279L503 282L499 283L498 280L504 276L499 277L495 278L487 281L483 283L480 286L481 290L483 290L479 291L474 292L468 294L468 298L464 301L462 299L463 303L460 308L459 302L458 308L461 310L462 314L458 317L453 320L449 322L442 327L440 331L440 335L442 341L445 348L444 353L440 354L438 350L434 344L434 339L430 335L424 336L420 334L412 334L408 335L409 338L404 338L398 337L391 336L387 338L381 342L378 346L378 351L376 358L376 365L378 371L382 377L387 379L391 381L396 380L401 378L403 375L405 370L412 368L418 368L416 374L415 380L413 382L413 387L411 390L416 390L422 390L427 390L432 393L431 401L430 407L431 410L435 414L439 417L443 416L447 414L450 415L455 417M455 421L452 422L450 419L447 416L444 419L445 422L442 423L439 421L434 419L431 418L430 414L425 412L422 409L420 405L416 401L412 400L406 398L400 397L394 392L389 389L385 390L380 390L373 388L367 385L361 382L354 380L348 376L346 372L347 368L344 363L338 357L333 353L331 349L327 345L321 340L318 335L316 331L311 329L310 332L313 336L317 341L320 346L323 351L326 356L330 359L331 362L328 362L323 357L320 353L317 348L312 346L313 342L310 338L306 335L303 329L301 325L296 320L288 318L287 314L283 310L281 306L279 302L276 298L274 295L274 290L273 285L275 278L275 272L272 265L279 265L281 269L281 264L278 261L272 258L263 255L260 250L254 245L250 240L246 237L242 232L236 227L230 225L223 224L215 220L205 220L196 219L188 216L181 218L175 221L168 223L170 217L165 216L160 222L158 227L151 230L143 234L136 237L126 239L117 241L124 237L132 235L140 232L145 229L147 225L140 225L135 224L128 225L128 220L120 220L115 216L113 212L117 208L124 208L131 206L133 202L126 202L117 202L111 201L105 198M455 417L457 420L462 414L465 409L472 407L478 404L478 409L476 414L479 414L479 409L483 407L489 408L491 410L499 410L505 412L512 410L515 412L518 416L522 419L528 424L533 428L541 428L549 430L555 434L557 440L561 444L561 450L566 453L574 455L582 459L588 461L595 462L601 463L607 466L613 470L617 471L619 478L618 486L615 491L610 496L605 501L603 509L603 518L600 526L596 534L592 539L586 540L580 542L572 546L566 550L566 557L564 562L560 567L555 574L551 579L546 584L541 586L534 585L529 582L532 588L534 593L530 598L522 601L514 601L513 607L503 608L503 613L507 615L503 618L501 625L494 628L493 631L499 634L497 639L491 644L487 650L489 653L483 654L479 658L474 657L468 653L464 650L462 642L463 634L467 626L470 621L472 613L469 609L469 603L471 596L473 589L476 580L478 571L478 561L480 551L482 542L483 532L482 522L478 518L470 514L463 510L459 504L456 498L452 491L449 484L445 477L440 473L440 468L444 464L445 461L441 459L442 455L444 450L449 446L450 441L454 438L455 434L454 429L455 421M489 654L481 658L478 660L483 663L491 665L497 664L502 662L495 660L490 657L489 654M518 651L524 649L530 650L528 652L521 652L518 651M491 158L479 154L473 149L491 144L503 139L518 135L541 134L568 132L591 130L618 129L646 130L661 132L676 135L700 136L707 138L690 142L678 146L680 152L673 156L676 161L674 165L667 168L659 172L667 175L669 179L657 179L651 182L661 183L651 186L638 188L628 189L622 194L613 197L600 198L596 203L591 209L588 216L584 220L578 218L568 216L562 212L557 206L552 200L547 195L546 191L553 186L557 182L545 182L542 178L553 178L549 175L539 174L541 169L534 164L528 160L516 157L503 157L491 158M660 198L667 195L676 196L686 196L692 194L698 196L701 200L697 203L690 205L680 206L671 205L667 203L669 201L661 201L667 199L660 198M443 167L456 167L472 173L483 178L491 180L495 185L506 191L516 194L508 200L501 202L503 208L491 210L481 208L474 205L466 202L453 203L452 199L468 198L470 193L473 189L458 187L450 181L443 182L427 181L414 179L408 176L407 170L412 167L423 167L429 170L439 170L443 167M302 167L313 169L325 171L340 169L348 171L348 177L360 180L364 183L356 186L344 185L329 186L315 186L306 184L300 180L308 178L298 175L296 171L302 167M271 173L277 166L290 164L306 168L296 173L288 176L277 176L271 173M410 156L425 154L445 157L454 154L460 148L468 144L483 142L499 139L514 134L499 131L476 130L445 131L422 134L402 137L406 140L422 141L425 146L418 149L410 152L410 156M387 156L402 155L422 159L445 160L445 163L422 164L398 163L387 156M302 157L321 157L340 158L344 162L329 164L313 162L302 160L302 157M360 156L375 156L379 160L367 162L360 159L360 156M360 167L371 166L379 169L379 174L369 175L360 171L360 167M385 166L398 166L404 169L396 173L387 173L385 169L385 166M383 140L402 141L418 144L406 149L387 148L383 144L383 140M418 199L429 197L439 202L444 206L433 208L423 206L418 204L418 199M525 267L532 256L538 252L539 258L547 261L550 268L546 271L539 270L537 267L525 267M426 367L433 362L441 362L449 365L456 367L462 371L467 373L461 374L454 374L456 371L449 368L438 365L431 365L426 367M466 380L472 374L478 374L484 375L489 379L483 380L478 383L474 381L466 380M451 380L456 380L459 382L454 382L451 380M494 380L500 380L500 382L494 382L494 380M151 373L155 375L153 378L151 375L151 373M136 366L143 368L147 370L150 371M717 285L723 282L734 283L746 284L749 279L749 274L745 269L736 266L736 264L746 263L747 260L753 260L759 257L763 254L769 250L773 246L781 245L786 243L786 237L785 231L794 228L794 233L792 238L795 243L802 241L809 243L817 241L825 240L830 241L835 238L835 232L841 228L848 230L847 226L844 223L854 221L862 221L870 220L864 218L854 218L842 220L837 217L836 212L837 207L846 201L851 199L846 197L839 198L836 202L823 209L820 214L821 218L826 220L819 225L817 231L815 234L810 235L804 237L802 234L798 227L796 223L793 222L786 227L781 227L775 223L773 218L773 212L781 208L792 204L800 198L806 193L812 188L821 184L831 181L842 178L854 177L864 178L873 180L870 182L881 183L893 184L908 189L912 193L902 196L889 194L881 193L887 197L888 202L898 204L907 202L910 197L916 195L924 196L926 191L924 187L931 188L933 193L943 189L958 188L966 187L978 185L987 186L989 182L1001 184L1012 186L1018 188L1014 183L1012 178L1012 173L1020 169L1030 169L1034 174L1032 181L1035 187L1039 189L1032 195L1038 193L1043 189L1041 185L1038 179L1041 171L1047 173L1055 173L1065 170L1065 167L1082 166L1090 162L1101 159L1117 158L1132 157L1148 153L1156 151L1165 154L1175 156L1186 156L1192 160L1178 166L1188 166L1202 167L1213 169L1231 167L1244 167L1252 173L1252 177L1262 178L1267 175L1283 175L1294 175L1294 171L1318 172L1333 174L1345 177L1364 178L1372 182L1379 183L1395 183L1412 182L1410 186L1430 182L1449 185M58 200L78 201L87 203L86 196L97 196L89 193L78 191L66 188L58 186M58 200L64 202L63 207L58 209M1449 200L1443 202L1439 201L1444 207L1447 210L1430 211L1420 216L1412 220L1402 218L1389 220L1384 225L1381 228L1384 232L1379 235L1379 240L1372 242L1366 247L1359 254L1355 250L1354 243L1355 235L1359 228L1368 225L1377 218L1386 215L1387 210L1374 213L1370 213L1359 214L1350 220L1341 223L1337 221L1329 221L1318 222L1304 223L1287 229L1277 239L1285 243L1294 242L1299 247L1298 251L1296 256L1295 264L1289 270L1281 277L1275 283L1267 286L1260 287L1258 288L1255 291L1254 294L1246 297L1250 302L1253 308L1253 314L1246 317L1242 318L1242 312L1243 308L1239 305L1236 302L1238 299L1234 297L1227 299L1222 301L1225 295L1221 293L1215 297L1209 300L1208 302L1212 305L1215 308L1220 305L1227 307L1226 309L1219 312L1214 316L1218 319L1221 324L1224 328L1224 332L1219 334L1225 336L1223 342L1217 348L1214 353L1209 356L1205 361L1198 363L1192 365L1186 367L1180 369L1178 373L1177 368L1172 368L1167 370L1163 374L1162 378L1165 383L1169 387L1173 391L1176 399L1175 405L1171 409L1167 411L1166 414L1160 417L1159 412L1153 410L1150 405L1144 402L1143 399L1140 400L1140 405L1137 410L1137 415L1141 419L1144 425L1149 427L1153 433L1153 439L1156 446L1153 446L1148 442L1145 439L1143 436L1141 430L1141 426L1139 424L1134 419L1133 416L1134 409L1135 403L1133 397L1131 392L1131 387L1128 385L1122 390L1118 389L1118 383L1118 378L1115 375L1110 371L1109 366L1105 364L1102 367L1097 367L1092 368L1089 372L1087 374L1082 377L1076 382L1071 387L1066 390L1063 393L1063 400L1062 405L1062 411L1059 415L1056 417L1053 420L1049 416L1047 410L1044 405L1041 398L1039 391L1037 386L1035 378L1034 371L1034 368L1028 371L1025 370L1020 365L1024 364L1017 360L1014 356L1010 353L1003 354L991 354L982 353L975 351L972 347L965 348L958 347L953 343L948 336L943 334L939 336L942 343L947 348L950 355L953 351L953 356L958 358L964 358L970 351L972 350L972 355L980 360L985 365L981 371L977 374L976 378L968 383L958 387L954 391L943 396L935 399L927 402L922 402L920 395L919 388L914 382L908 373L904 367L902 360L897 355L893 347L889 343L888 339L886 343L883 341L880 335L879 339L883 346L889 355L892 360L896 366L897 372L898 378L903 382L907 390L912 394L918 400L921 405L921 407L926 410L933 409L943 407L951 405L951 411L945 422L939 432L931 440L922 448L916 454L910 461L906 468L904 475L906 481L906 488L910 492L910 500L911 508L907 515L898 519L893 524L888 528L890 536L891 544L883 548L880 552L880 559L875 565L871 571L864 577L856 582L846 583L839 583L831 585L825 583L824 577L822 571L817 562L813 555L810 547L809 538L805 530L800 522L799 515L802 507L806 498L807 491L804 485L801 475L799 468L792 462L788 455L790 447L792 440L790 436L787 433L781 434L776 434L771 427L763 427L758 428L750 431L744 432L738 431L730 432L725 434L719 432L712 426L705 422L702 417L698 410L694 405L689 403L689 398L686 394L689 390L691 383L691 377L689 370L688 367L692 360L696 355L698 350L703 344L709 341L715 336L716 331L718 326L725 321L729 318L731 313L736 315L743 315L748 314L754 313L759 310L767 309L777 308L785 309L792 307L796 309L794 313L793 319L797 323L803 324L812 326L814 330L821 332L828 334L831 331L831 326L837 324L843 326L850 329L860 331L867 332L873 329L878 330L885 330L889 326L891 320L893 314L893 310L887 309L879 312L872 310L866 311L859 309L856 303L857 299L855 297L860 295L866 293L867 292L875 292L883 289L890 290L895 292L902 293L910 293L914 291L913 287L907 283L902 280L898 277L901 273L905 269L898 270L890 273L892 276L885 280L882 277L878 273L873 272L868 277L864 281L861 287L862 291L855 293L846 294L842 296L846 297L842 300L846 304L843 306L841 310L837 309L836 304L832 299L829 295L829 290L825 287L819 284L814 281L811 277L807 275L802 276L801 280L806 283L810 288L816 289L823 294L825 296L821 296L819 298L820 301L816 304L814 304L815 300L812 296L808 293L803 291L798 288L793 284L792 281L788 280L783 282L777 285L770 284L766 285L766 289L761 292L756 294L753 299L754 301L751 304L747 308L739 309L733 311L729 310L726 308L720 308L720 302L717 301L720 295L720 290L718 285L717 285M937 285L945 295L943 302L949 308L960 309L961 301L958 297L958 290L953 284L949 279L956 275L952 270L943 272L937 277L937 285M733 258L740 256L749 255L759 254L760 248L755 247L754 243L748 239L746 235L742 234L746 229L739 228L741 225L734 225L730 229L732 234L734 238L740 239L742 243L736 245L737 249L734 251L740 253L736 254L733 258M715 252L723 252L730 249L730 245L732 240L725 238L721 240L715 242L716 246L715 252M796 146L808 142L827 141L846 141L858 143L842 147L837 150L825 154L815 155L810 151L798 148L796 146M953 175L960 170L966 164L978 159L993 157L1009 155L1019 156L1005 159L987 162L978 166L970 171L974 177L966 178L958 178L953 175M927 140L939 139L954 139L947 141L931 141L927 140M1121 145L1132 140L1151 144L1159 149L1140 150L1128 147L1121 145M1283 160L1302 158L1321 161L1333 162L1310 164L1290 164L1283 160M1443 176L1449 175M58 175L68 176L62 178L58 178M1302 242L1306 247L1307 254L1310 261L1306 268L1307 272L1302 274L1302 266L1301 258L1301 250L1302 242M1294 291L1300 287L1308 289L1316 284L1311 281L1302 276L1300 281L1295 284L1294 291M1299 291L1302 299L1298 304L1297 312L1294 316L1290 317L1283 318L1277 322L1275 318L1267 319L1260 320L1259 318L1265 314L1275 314L1281 309L1285 308L1289 306L1292 302L1294 297L1295 293L1299 291M1256 322L1262 321L1263 324L1261 330L1257 331L1255 325L1256 322M1265 320L1273 319L1273 321L1267 324L1265 320M1223 354L1224 356L1221 366L1218 362L1220 356L1223 354M1173 377L1180 374L1182 376L1177 380L1173 377M1219 380L1226 380L1226 387L1223 391L1224 396L1233 401L1231 402L1225 398L1220 398L1218 394L1217 388L1218 383L1219 380M1225 424L1231 418L1238 413L1241 418L1241 426L1238 429L1233 426L1225 424M1231 410L1236 407L1238 403L1237 409L1234 412L1231 410M1225 405L1229 407L1229 412L1226 410L1225 405M1206 419L1215 410L1214 409L1206 419M1175 445L1178 444L1184 441L1190 438L1196 432L1200 430L1205 424L1208 427L1211 431L1208 435L1209 442L1209 447L1207 454L1204 460L1202 466L1196 466L1190 463L1185 464L1180 462L1177 455L1175 450L1175 445M1122 429L1130 431L1133 435L1140 441L1146 444L1151 449L1155 455L1157 460L1163 463L1162 473L1157 473L1151 470L1146 463L1141 456L1136 449L1132 443L1126 437L1122 429M1160 477L1165 474L1173 476L1180 478L1189 478L1196 481L1195 484L1186 483L1178 482L1171 481L1165 480L1160 477M1216 448L1221 446L1229 448L1236 445L1234 449L1227 449L1220 450L1217 454L1223 454L1229 454L1227 458L1223 458L1227 463L1226 470L1223 468L1221 462L1218 463L1219 472L1215 472L1215 464L1212 462L1214 456L1216 448M1246 444L1249 445L1251 449L1247 449L1247 454L1246 448L1246 444M1231 491L1236 485L1244 483L1242 486L1236 489L1231 491M1202 483L1209 483L1217 483L1228 483L1227 485L1217 485L1209 485L1202 485L1202 483M1248 463L1258 463L1259 466L1252 464L1248 463M1213 488L1219 488L1219 490L1213 488M1260 454L1265 453L1271 454L1272 459L1275 464L1281 459L1287 457L1294 460L1300 461L1308 464L1314 468L1318 472L1323 474L1324 478L1319 480L1323 484L1327 486L1333 490L1335 492L1329 491L1323 490L1319 485L1314 481L1308 482L1307 486L1300 486L1294 482L1289 483L1287 478L1290 475L1287 472L1279 468L1271 466L1267 466L1267 463L1263 462L1269 460L1264 459L1260 456L1260 454M1327 473L1333 470L1339 467L1342 468L1341 472L1335 475L1329 475L1327 473M1336 461L1342 464L1345 469L1343 466L1337 462L1336 461M1351 472L1355 476L1353 477L1351 473L1351 472M1371 486L1375 488L1373 489L1371 486M1360 479L1368 483L1367 483L1360 480L1360 479M1374 483L1377 487L1375 487L1374 484L1374 483M1377 490L1380 493L1379 492L1377 490M1397 508L1399 512L1398 512L1397 508M1399 513L1402 515L1400 515L1399 513M1387 529L1393 533L1399 537L1396 537L1390 533L1387 529M1438 518L1443 519L1442 521L1439 521L1438 518M1062 414L1066 416L1070 422L1068 427L1063 428L1061 422L1062 414M944 497L948 505L948 512L946 517L944 522L942 530L939 538L936 545L929 549L924 547L922 540L921 534L925 528L924 520L924 516L929 512L935 509L939 504L944 497M1192 536L1195 538L1194 534L1200 531L1206 530L1213 528L1221 527L1226 520L1226 517L1231 518L1232 514L1236 511L1240 506L1244 505L1249 508L1254 508L1255 503L1259 499L1263 495L1269 497L1275 498L1282 497L1280 503L1277 508L1283 512L1290 517L1296 518L1298 513L1301 505L1301 499L1303 493L1306 497L1308 503L1312 506L1315 509L1316 516L1318 523L1323 526L1329 530L1332 537L1336 540L1341 545L1345 551L1346 559L1345 567L1343 574L1338 580L1336 586L1333 592L1332 596L1325 597L1319 601L1314 598L1308 601L1300 599L1294 596L1292 590L1287 588L1287 582L1285 587L1282 589L1286 578L1279 585L1277 584L1272 577L1263 574L1252 573L1240 576L1233 578L1231 582L1221 581L1215 583L1209 586L1202 585L1198 583L1199 579L1200 572L1198 567L1195 559L1192 553L1192 547L1192 542L1192 536M1312 608L1319 610L1326 609L1326 613L1324 618L1319 619L1316 616L1312 608M1421 584L1426 588L1431 593L1433 596M1430 611L1431 607L1426 603L1429 598L1428 592L1422 586L1421 584M1421 607L1426 611L1422 617L1418 620L1414 625L1412 628L1406 631L1401 629L1397 628L1402 621L1410 617L1416 612L1421 607M1019 639L1026 640L1025 642L1020 642L1019 639M279 158L294 153L306 156L294 159L279 158M381 160L391 159L393 163L383 163L381 160M369 183L379 182L385 186L375 187L369 183M348 146L367 146L371 150L352 151L348 146M441 167L456 168L460 171L445 171L441 167M321 149L333 148L333 151L321 152L321 149M505 259L514 261L505 260M157 231L165 227L167 230L159 232L157 231M258 255L269 257L277 264L269 263L258 255M240 243L245 243L248 250L242 247L240 243M515 410L518 410L518 412L515 412L515 410M786 293L791 293L791 300L786 301L786 293M787 286L790 286L790 291L788 291L787 286M802 304L814 304L812 309L802 306L802 304M845 314L855 315L848 316L845 314M879 316L887 314L884 317L879 316M796 237L802 236L801 239L796 237M824 228L827 228L825 231L824 228M1196 483L1200 483L1199 485L1196 483M1240 463L1245 464L1243 466L1240 463M1227 409L1230 410L1229 416L1226 413L1227 409M1219 399L1222 400L1222 404L1220 402L1219 399M1234 403L1238 403L1239 408L1236 407L1234 403M61 776L96 774L128 778L164 780L202 777L164 774L162 768L148 765L186 760L164 756L143 751L142 747L164 748L189 741L232 736L278 734L314 736L339 741L364 740L353 733L361 728L380 729L371 734L400 734L432 734L461 735M121 754L130 751L139 756L128 758L121 754M460 735L477 731L490 730L494 725L487 718L492 709L506 701L520 697L532 695L528 699L512 706L501 712L508 718L514 726L518 736L512 739L493 742L475 745L456 747L452 754L464 759L480 763L498 765L517 762L523 759L523 766L529 772L544 769L565 768L586 768L610 764L642 761L637 756L616 756L614 753L632 748L666 744L690 738L693 733L712 725L743 724M464 727L477 717L485 722L475 726L464 727M544 761L557 753L570 750L584 753L586 760L570 762L544 761M743 726L750 726L771 722L786 720L796 724L811 721L829 720L839 723L857 722L875 719L884 715L893 718L904 720L914 716L932 712L946 709L960 705M960 705L973 706L982 711L995 714L1002 710L1018 713L1022 718L1015 723L1020 729L1028 728L1037 720L1051 718L1059 714L1073 709L1088 709L1092 706L1097 710L1117 710L1136 710L1150 704L1163 708L1179 707L1190 705L1201 708L1216 710L1227 706L1249 707L1271 706L1275 703L1280 708L1296 708L1315 708L1320 713L1340 717L1349 716L1362 720L1377 723L1399 723L1413 727L1408 734L1393 738L1386 746L1388 752L1397 754L1377 757L1370 763L1380 768L1402 772L1417 775L1428 776"/></g>
</g>
<rect x="58.5" y="2083.5" width="1371" height="675" fill="none" stroke="#000" stroke-width="3"/>
<rect x="58.50" y="2801.5" width="137.70" height="68" fill="#0000b6"/>
<rect x="195.60" y="2801.5" width="137.70" height="68" fill="#0018ff"/>
<rect x="332.70" y="2801.5" width="137.70" height="68" fill="#0080ff"/>
<rect x="469.80" y="2801.5" width="137.70" height="68" fill="#00e4f8"/>
<rect x="606.90" y="2801.5" width="137.70" height="68" fill="#53ffa4"/>
<rect x="744.00" y="2801.5" width="137.70" height="68" fill="#a4ff53"/>
<rect x="881.10" y="2801.5" width="137.70" height="68" fill="#f8f500"/>
<rect x="1018.20" y="2801.5" width="137.70" height="68" fill="#ff9400"/>
<rect x="1155.30" y="2801.5" width="137.70" height="68" fill="#ff3800"/>
<rect x="1292.40" y="2801.5" width="137.10" height="68" fill="#b60000"/>
<rect x="58.5" y="2801.5" width="1371" height="68" fill="none" stroke="#000" stroke-width="3"/>
<line x1="58.50" y1="2870.0" x2="58.50" y2="2884.5" stroke="#000" stroke-width="3"/>
<text x="58.50" y="2931.4" font-size="42.4" text-anchor="middle" textLength="25.3" lengthAdjust="spacingAndGlyphs" stroke="#000" stroke-width="0.5">0</text>
<line x1="332.70" y1="2870.0" x2="332.70" y2="2884.5" stroke="#000" stroke-width="3"/>
<text x="332.70" y="2931.4" font-size="42.4" text-anchor="middle" textLength="25.3" lengthAdjust="spacingAndGlyphs" stroke="#000" stroke-width="0.5">5</text>
<line x1="606.90" y1="2870.0" x2="606.90" y2="2884.5" stroke="#000" stroke-width="3"/>
<text x="606.90" y="2931.4" font-size="42.4" text-anchor="middle" textLength="50.6" lengthAdjust="spacingAndGlyphs" stroke="#000" stroke-width="0.5">10</text>
<line x1="881.10" y1="2870.0" x2="881.10" y2="2884.5" stroke="#000" stroke-width="3"/>
<text x="881.10" y="2931.4" font-size="42.4" text-anchor="middle" textLength="50.6" lengthAdjust="spacingAndGlyphs" stroke="#000" stroke-width="0.5">15</text>
<line x1="1155.30" y1="2870.0" x2="1155.30" y2="2884.5" stroke="#000" stroke-width="3"/>
<text x="1155.30" y="2931.4" font-size="42.4" text-anchor="middle" textLength="50.6" lengthAdjust="spacingAndGlyphs" stroke="#000" stroke-width="0.5">20</text>
<line x1="1429.50" y1="2870.0" x2="1429.50" y2="2884.5" stroke="#000" stroke-width="3"/>
<text x="1429.50" y="2931.4" font-size="42.4" text-anchor="middle" textLength="50.6" lengthAdjust="spacingAndGlyphs" stroke="#000" stroke-width="0.5">25</text>
<text x="744" y="2057.7" font-size="51" text-anchor="middle" textLength="1311" lengthAdjust="spacingAndGlyphs" stroke="#000" stroke-width="0.6" xml:space="preserve">Plasmasphere (h=1500.0 km), 2013-12-23 23:00 UT</text>
</svg>
</body></html>
